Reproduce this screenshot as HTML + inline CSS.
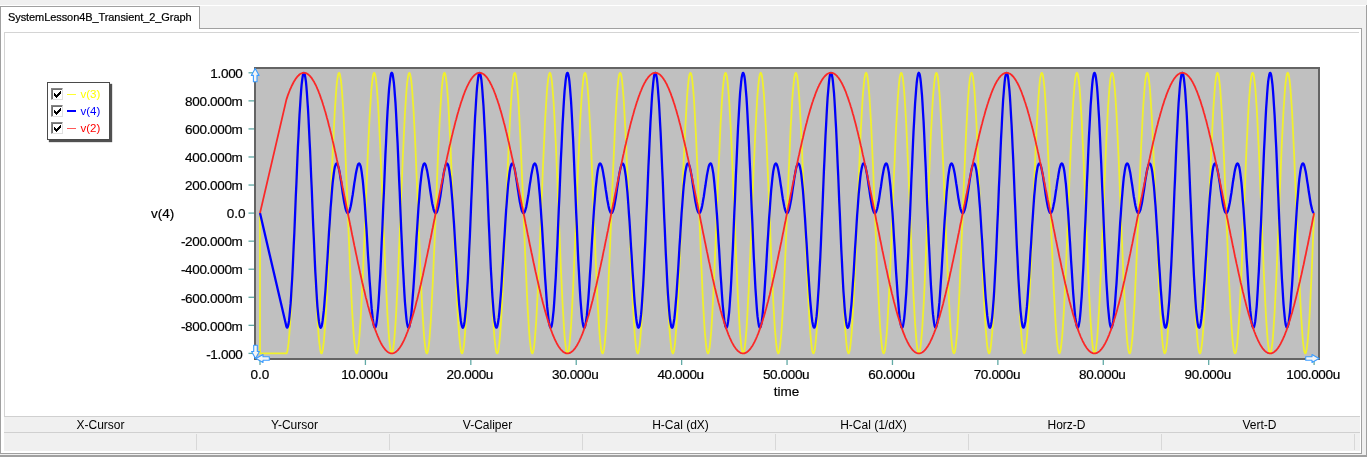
<!DOCTYPE html>
<html><head><meta charset="utf-8"><title>SystemLesson4B_Transient_2_Graph</title>
<style>
html,body{margin:0;padding:0;}
body{width:1367px;height:457px;overflow:hidden;background:#f0f0f0;position:relative;font-family:"Liberation Sans",sans-serif;color:#000;}
.abs{position:absolute;}
.tab{left:0;top:6px;width:198px;height:22px;background:#fff;border:1px solid #a0a0a0;border-bottom:none;box-sizing:content-box;}
.tabtxt{left:8px;top:11px;font-size:11px;line-height:13px;white-space:nowrap;letter-spacing:-0.08px;-webkit-text-stroke:0.2px #000;}
.page{left:0;top:28px;width:1360px;height:424px;background:#fff;border:1px solid #a0a0a0;}
.inner{left:4px;top:32px;width:1354px;height:384px;background:#fff;border-top:1px solid #d4d4d4;border-left:1px solid #d4d4d4;}
.status{left:4px;top:416px;width:1356px;height:35px;background:#f0f0f0;}
.sline{left:4px;width:1356px;height:1px;background:#d0d0d0;}
.scol{top:418px;width:193px;text-align:center;font-size:12px;line-height:14px;}
.ssep{top:434px;width:1px;height:16px;background:#d8d8d8;}
.yl{right:1124.5px;font-size:13.5px;line-height:15px;white-space:nowrap;text-align:right;letter-spacing:-0.33px;-webkit-text-stroke:0.2px #000;}
.xl{font-size:13.5px;line-height:15px;white-space:nowrap;width:100px;text-align:center;letter-spacing:-0.35px;-webkit-text-stroke:0.2px #000;}
.leg{left:47px;top:82px;width:61px;height:56px;border:1px solid #4a4a4a;background:#fff;box-shadow:2px 2px 1px #505050;}
.cb{left:51px;width:10px;height:10px;background:#fff;border-top:1px solid #858585;border-left:1px solid #858585;border-right:1px solid #e0e0e0;border-bottom:1px solid #e0e0e0;box-sizing:content-box;}
.cbi{left:52px;width:9px;height:9px;border-top:1px solid #707070;border-left:1px solid #707070;}
.lt{left:80.5px;font-size:11.5px;line-height:13px;white-space:nowrap;}
</style></head><body>

<div class="abs" style="left:0;top:5px;width:1367px;height:1px;background:#fff"></div>
<div class="abs" style="left:1366px;top:5px;width:1px;height:452px;background:#a0a0a0"></div>
<div class="abs" style="left:0;top:455px;width:1367px;height:2px;background:#a0a0a0"></div>
<div class="abs page"></div>
<div class="abs tab"></div>
<div class="abs tabtxt">SystemLesson4B_Transient_2_Graph</div>
<div class="abs inner"></div>
<div class="abs status"></div>
<div class="abs sline" style="top:416px"></div>
<div class="abs sline" style="top:432px"></div>
<div class="abs scol" style="left:4px">X-Cursor</div>
<div class="abs ssep" style="left:196px"></div>
<div class="abs scol" style="left:198px">Y-Cursor</div>
<div class="abs ssep" style="left:389px"></div>
<div class="abs scol" style="left:391px">V-Caliper</div>
<div class="abs ssep" style="left:582px"></div>
<div class="abs scol" style="left:584px">H-Cal (dX)</div>
<div class="abs ssep" style="left:775px"></div>
<div class="abs scol" style="left:777px">H-Cal (1/dX)</div>
<div class="abs ssep" style="left:968px"></div>
<div class="abs scol" style="left:970px">Horz-D</div>
<div class="abs ssep" style="left:1161px"></div>
<div class="abs scol" style="left:1163px">Vert-D</div>
<div class="abs ssep" style="left:1354px"></div>
<div class="abs yl" style="top:66.0px">1.000</div>
<div class="abs yl" style="top:94.1px">800.000m</div>
<div class="abs yl" style="top:122.1px">600.000m</div>
<div class="abs yl" style="top:150.2px">400.000m</div>
<div class="abs yl" style="top:178.2px">200.000m</div>
<div class="abs yl" style="top:206.3px;right:1121.5px;letter-spacing:0">0.0</div>
<div class="abs yl" style="top:234.4px">-200.000m</div>
<div class="abs yl" style="top:262.4px">-400.000m</div>
<div class="abs yl" style="top:290.5px">-600.000m</div>
<div class="abs yl" style="top:318.5px">-800.000m</div>
<div class="abs yl" style="top:346.6px">-1.000</div>
<div class="abs xl" style="left:209.0px;top:366.5px;letter-spacing:0;margin-left:1px">0.0</div>
<div class="abs xl" style="left:314.4px;top:366.5px">10.000u</div>
<div class="abs xl" style="left:419.8px;top:366.5px">20.000u</div>
<div class="abs xl" style="left:525.2px;top:366.5px">30.000u</div>
<div class="abs xl" style="left:630.6px;top:366.5px">40.000u</div>
<div class="abs xl" style="left:736.1px;top:366.5px">50.000u</div>
<div class="abs xl" style="left:841.5px;top:366.5px">60.000u</div>
<div class="abs xl" style="left:946.9px;top:366.5px">70.000u</div>
<div class="abs xl" style="left:1052.3px;top:366.5px">80.000u</div>
<div class="abs xl" style="left:1157.7px;top:366.5px">90.000u</div>
<div class="abs xl" style="left:1263.1px;top:366.5px">100.000u</div>
<div class="abs xl" style="left:736.5px;top:383.5px;letter-spacing:0">time</div>
<div class="abs" style="left:151px;top:206px;font-size:13.5px;line-height:15px;-webkit-text-stroke:0.2px #000">v(4)</div>
<div class="abs leg"></div>
<div class="abs cb" style="top:88px"></div><div class="abs cbi" style="top:89px"></div>
<svg class="abs" style="left:54px;top:91px" width="7" height="7" viewBox="0 0 7 7" shape-rendering="crispEdges" fill="#000"><rect x="0" y="2" width="1" height="3"/><rect x="1" y="3" width="1" height="3"/><rect x="2" y="4" width="1" height="3"/><rect x="3" y="3" width="1" height="3"/><rect x="4" y="2" width="1" height="3"/><rect x="5" y="1" width="1" height="3"/><rect x="6" y="0" width="1" height="3"/></svg>
<div class="abs" style="left:67px;top:93.75px;width:8.5px;height:1.5px;background:#ffff30"></div>
<div class="abs lt" style="top:87.5px;color:#ffff00">v(3)</div>
<div class="abs cb" style="top:105px"></div><div class="abs cbi" style="top:106px"></div>
<svg class="abs" style="left:54px;top:108px" width="7" height="7" viewBox="0 0 7 7" shape-rendering="crispEdges" fill="#000"><rect x="0" y="2" width="1" height="3"/><rect x="1" y="3" width="1" height="3"/><rect x="2" y="4" width="1" height="3"/><rect x="3" y="3" width="1" height="3"/><rect x="4" y="2" width="1" height="3"/><rect x="5" y="1" width="1" height="3"/><rect x="6" y="0" width="1" height="3"/></svg>
<div class="abs" style="left:67px;top:110px;width:8.5px;height:2px;background:#0000ff"></div>
<div class="abs lt" style="top:104.5px;color:#0000ff">v(4)</div>
<div class="abs cb" style="top:122px"></div><div class="abs cbi" style="top:123px"></div>
<svg class="abs" style="left:54px;top:125px" width="7" height="7" viewBox="0 0 7 7" shape-rendering="crispEdges" fill="#000"><rect x="0" y="2" width="1" height="3"/><rect x="1" y="3" width="1" height="3"/><rect x="2" y="4" width="1" height="3"/><rect x="3" y="3" width="1" height="3"/><rect x="4" y="2" width="1" height="3"/><rect x="5" y="1" width="1" height="3"/><rect x="6" y="0" width="1" height="3"/></svg>
<div class="abs" style="left:67px;top:127.75px;width:8.5px;height:1.5px;background:#ff5858"></div>
<div class="abs lt" style="top:121.5px;color:#ff0000">v(2)</div>
<svg class="abs" style="left:0;top:0" width="1367" height="457" viewBox="0 0 1367 457">
<rect x="255" y="68" width="1064" height="291" fill="#c0c0c0" stroke="#646464" stroke-width="2" shape-rendering="crispEdges"/>
<rect x="248.5" y="72.15" width="5.5" height="1.3" fill="#62aaa6"/>
<rect x="259.35" y="360" width="1.3" height="5" fill="#62aaa6"/>
<rect x="248.5" y="100.21" width="5.5" height="1.3" fill="#62aaa6"/>
<rect x="364.76" y="360" width="1.3" height="5" fill="#62aaa6"/>
<rect x="248.5" y="128.27" width="5.5" height="1.3" fill="#62aaa6"/>
<rect x="470.17" y="360" width="1.3" height="5" fill="#62aaa6"/>
<rect x="248.5" y="156.33" width="5.5" height="1.3" fill="#62aaa6"/>
<rect x="575.58" y="360" width="1.3" height="5" fill="#62aaa6"/>
<rect x="248.5" y="184.39" width="5.5" height="1.3" fill="#62aaa6"/>
<rect x="680.99" y="360" width="1.3" height="5" fill="#62aaa6"/>
<rect x="248.5" y="212.45" width="5.5" height="1.3" fill="#62aaa6"/>
<rect x="786.40" y="360" width="1.3" height="5" fill="#62aaa6"/>
<rect x="248.5" y="240.51" width="5.5" height="1.3" fill="#62aaa6"/>
<rect x="891.81" y="360" width="1.3" height="5" fill="#62aaa6"/>
<rect x="248.5" y="268.57" width="5.5" height="1.3" fill="#62aaa6"/>
<rect x="997.22" y="360" width="1.3" height="5" fill="#62aaa6"/>
<rect x="248.5" y="296.63" width="5.5" height="1.3" fill="#62aaa6"/>
<rect x="1102.63" y="360" width="1.3" height="5" fill="#62aaa6"/>
<rect x="248.5" y="324.69" width="5.5" height="1.3" fill="#62aaa6"/>
<rect x="1208.04" y="360" width="1.3" height="5" fill="#62aaa6"/>
<rect x="248.5" y="352.75" width="5.5" height="1.3" fill="#62aaa6"/>
<rect x="1313.45" y="360" width="1.3" height="5" fill="#62aaa6"/>
<g fill="none" stroke-linejoin="round" shape-rendering="crispEdges">
<polyline points="260.0,213.1 260.0,353.4 286.4,353.4 286.4,353.4 286.9,352.8 287.4,350.9 287.9,347.8 288.5,343.5 289.0,338.1 289.5,331.6 290.0,324.0 290.6,315.4 291.1,305.9 291.6,295.6 292.2,284.5 292.7,272.8 293.2,260.6 293.7,248.0 294.3,235.0 294.8,221.9 295.3,208.7 295.8,195.5 296.4,182.5 296.9,169.7 297.4,157.4 297.9,145.5 298.5,134.2 299.0,123.7 299.5,113.9 300.1,105.0 300.6,97.1 301.1,90.2 301.6,84.3 302.2,79.7 302.7,76.2 303.2,73.9 303.7,72.9 304.3,73.1 304.8,74.5 305.3,77.2 305.9,81.1 306.4,86.2 306.9,92.3 307.4,99.6 308.0,107.9 308.5,117.1 309.0,127.1 309.5,137.9 310.1,149.4 310.6,161.5 311.1,174.0 311.7,186.8 312.2,199.9 312.7,213.1 313.2,226.3 313.8,239.4 314.3,252.2 314.8,264.7 315.3,276.8 315.9,288.3 316.4,299.1 316.9,309.1 317.4,318.3 318.0,326.6 318.5,333.9 319.0,340.0 319.6,345.1 320.1,349.0 320.6,351.7 321.1,353.1 321.7,353.3 322.2,352.3 322.7,350.0 323.2,346.5 323.8,341.9 324.3,336.0 324.8,329.1 325.4,321.2 325.9,312.3 326.4,302.5 326.9,292.0 327.5,280.7 328.0,268.8 328.5,256.5 329.0,243.7 329.6,230.7 330.1,217.5 330.6,204.3 331.2,191.2 331.7,178.2 332.2,165.6 332.7,153.4 333.3,141.7 333.8,130.6 334.3,120.3 334.8,110.8 335.4,102.2 335.9,94.6 336.4,88.1 336.9,82.7 337.5,78.4 338.0,75.3 338.5,73.4 339.1,72.8 339.6,73.4 340.1,75.3 340.6,78.4 341.2,82.7 341.7,88.1 342.2,94.6 342.7,102.2 343.3,110.8 343.8,120.3 344.3,130.6 344.9,141.7 345.4,153.4 345.9,165.6 346.4,178.2 347.0,191.2 347.5,204.3 348.0,217.5 348.5,230.7 349.1,243.7 349.6,256.5 350.1,268.8 350.7,280.7 351.2,292.0 351.7,302.5 352.2,312.3 352.8,321.2 353.3,329.1 353.8,336.0 354.3,341.9 354.9,346.5 355.4,350.0 355.9,352.3 356.5,353.3 357.0,353.1 357.5,351.7 358.0,349.0 358.6,345.1 359.1,340.0 359.6,333.9 360.1,326.6 360.7,318.3 361.2,309.1 361.7,299.1 362.2,288.3 362.8,276.8 363.3,264.7 363.8,252.2 364.4,239.4 364.9,226.3 365.4,213.1 365.9,199.9 366.5,186.8 367.0,174.0 367.5,161.5 368.0,149.4 368.6,137.9 369.1,127.1 369.6,117.1 370.2,107.9 370.7,99.6 371.2,92.3 371.7,86.2 372.3,81.1 372.8,77.2 373.3,74.5 373.8,73.1 374.4,72.9 374.9,73.9 375.4,76.2 376.0,79.7 376.5,84.3 377.0,90.2 377.5,97.1 378.1,105.0 378.6,113.9 379.1,123.7 379.6,134.2 380.2,145.5 380.7,157.4 381.2,169.7 381.7,182.5 382.3,195.5 382.8,208.7 383.3,221.9 383.9,235.0 384.4,248.0 384.9,260.6 385.4,272.8 386.0,284.5 386.5,295.6 387.0,305.9 387.5,315.4 388.1,324.0 388.6,331.6 389.1,338.1 389.7,343.5 390.2,347.8 390.7,350.9 391.2,352.8 391.8,353.4 392.3,352.8 392.8,350.9 393.3,347.8 393.9,343.5 394.4,338.1 394.9,331.6 395.5,324.0 396.0,315.4 396.5,305.9 397.0,295.6 397.6,284.5 398.1,272.8 398.6,260.6 399.1,248.0 399.7,235.0 400.2,221.9 400.7,208.7 401.2,195.5 401.8,182.5 402.3,169.7 402.8,157.4 403.4,145.5 403.9,134.2 404.4,123.7 404.9,113.9 405.5,105.0 406.0,97.1 406.5,90.2 407.0,84.3 407.6,79.7 408.1,76.2 408.6,73.9 409.2,72.9 409.7,73.1 410.2,74.5 410.7,77.2 411.3,81.1 411.8,86.2 412.3,92.3 412.8,99.6 413.4,107.9 413.9,117.1 414.4,127.1 415.0,137.9 415.5,149.4 416.0,161.5 416.5,174.0 417.1,186.8 417.6,199.9 418.1,213.1 418.6,226.3 419.2,239.4 419.7,252.2 420.2,264.7 420.8,276.8 421.3,288.3 421.8,299.1 422.3,309.1 422.9,318.3 423.4,326.6 423.9,333.9 424.4,340.0 425.0,345.1 425.5,349.0 426.0,351.7 426.5,353.1 427.1,353.3 427.6,352.3 428.1,350.0 428.7,346.5 429.2,341.9 429.7,336.0 430.2,329.1 430.8,321.2 431.3,312.3 431.8,302.5 432.3,292.0 432.9,280.7 433.4,268.8 433.9,256.5 434.5,243.7 435.0,230.7 435.5,217.5 436.0,204.3 436.6,191.2 437.1,178.2 437.6,165.6 438.1,153.4 438.7,141.7 439.2,130.6 439.7,120.3 440.3,110.8 440.8,102.2 441.3,94.6 441.8,88.1 442.4,82.7 442.9,78.4 443.4,75.3 443.9,73.4 444.5,72.8 445.0,73.4 445.5,75.3 446.0,78.4 446.6,82.7 447.1,88.1 447.6,94.6 448.2,102.2 448.7,110.8 449.2,120.3 449.7,130.6 450.3,141.7 450.8,153.4 451.3,165.6 451.8,178.2 452.4,191.2 452.9,204.3 453.4,217.5 454.0,230.7 454.5,243.7 455.0,256.5 455.5,268.8 456.1,280.7 456.6,292.0 457.1,302.5 457.6,312.3 458.2,321.2 458.7,329.1 459.2,336.0 459.8,341.9 460.3,346.5 460.8,350.0 461.3,352.3 461.9,353.3 462.4,353.1 462.9,351.7 463.4,349.0 464.0,345.1 464.5,340.0 465.0,333.9 465.5,326.6 466.1,318.3 466.6,309.1 467.1,299.1 467.7,288.3 468.2,276.8 468.7,264.7 469.2,252.2 469.8,239.4 470.3,226.3 470.8,213.1 471.3,199.9 471.9,186.8 472.4,174.0 472.9,161.5 473.5,149.4 474.0,137.9 474.5,127.1 475.0,117.1 475.6,107.9 476.1,99.6 476.6,92.3 477.1,86.2 477.7,81.1 478.2,77.2 478.7,74.5 479.3,73.1 479.8,72.9 480.3,73.9 480.8,76.2 481.4,79.7 481.9,84.3 482.4,90.2 482.9,97.1 483.5,105.0 484.0,113.9 484.5,123.7 485.1,134.2 485.6,145.5 486.1,157.4 486.6,169.7 487.2,182.5 487.7,195.5 488.2,208.7 488.7,221.9 489.3,235.0 489.8,248.0 490.3,260.6 490.8,272.8 491.4,284.5 491.9,295.6 492.4,305.9 493.0,315.4 493.5,324.0 494.0,331.6 494.5,338.1 495.1,343.5 495.6,347.8 496.1,350.9 496.6,352.8 497.2,353.4 497.7,352.8 498.2,350.9 498.8,347.8 499.3,343.5 499.8,338.1 500.3,331.6 500.9,324.0 501.4,315.4 501.9,305.9 502.4,295.6 503.0,284.5 503.5,272.8 504.0,260.6 504.6,248.0 505.1,235.0 505.6,221.9 506.1,208.7 506.7,195.5 507.2,182.5 507.7,169.7 508.2,157.4 508.8,145.5 509.3,134.2 509.8,123.7 510.3,113.9 510.9,105.0 511.4,97.1 511.9,90.2 512.5,84.3 513.0,79.7 513.5,76.2 514.0,73.9 514.6,72.9 515.1,73.1 515.6,74.5 516.1,77.2 516.7,81.1 517.2,86.2 517.7,92.3 518.3,99.6 518.8,107.9 519.3,117.1 519.8,127.1 520.4,137.9 520.9,149.4 521.4,161.5 521.9,174.0 522.5,186.8 523.0,199.9 523.5,213.1 524.1,226.3 524.6,239.4 525.1,252.2 525.6,264.7 526.2,276.8 526.7,288.3 527.2,299.1 527.7,309.1 528.3,318.3 528.8,326.6 529.3,333.9 529.8,340.0 530.4,345.1 530.9,349.0 531.4,351.7 532.0,353.1 532.5,353.3 533.0,352.3 533.5,350.0 534.1,346.5 534.6,341.9 535.1,336.0 535.6,329.1 536.2,321.2 536.7,312.3 537.2,302.5 537.8,292.0 538.3,280.7 538.8,268.8 539.3,256.5 539.9,243.7 540.4,230.7 540.9,217.5 541.4,204.3 542.0,191.2 542.5,178.2 543.0,165.6 543.6,153.4 544.1,141.7 544.6,130.6 545.1,120.3 545.7,110.8 546.2,102.2 546.7,94.6 547.2,88.1 547.8,82.7 548.3,78.4 548.8,75.3 549.4,73.4 549.9,72.8 550.4,73.4 550.9,75.3 551.5,78.4 552.0,82.7 552.5,88.1 553.0,94.6 553.6,102.2 554.1,110.8 554.6,120.3 555.1,130.6 555.7,141.7 556.2,153.4 556.7,165.6 557.3,178.2 557.8,191.2 558.3,204.3 558.8,217.5 559.4,230.7 559.9,243.7 560.4,256.5 560.9,268.8 561.5,280.7 562.0,292.0 562.5,302.5 563.1,312.3 563.6,321.2 564.1,329.1 564.6,336.0 565.2,341.9 565.7,346.5 566.2,350.0 566.7,352.3 567.3,353.3 567.8,353.1 568.3,351.7 568.9,349.0 569.4,345.1 569.9,340.0 570.4,333.9 571.0,326.6 571.5,318.3 572.0,309.1 572.5,299.1 573.1,288.3 573.6,276.8 574.1,264.7 574.6,252.2 575.2,239.4 575.7,226.3 576.2,213.1 576.8,199.9 577.3,186.8 577.8,174.0 578.3,161.5 578.9,149.4 579.4,137.9 579.9,127.1 580.4,117.1 581.0,107.9 581.5,99.6 582.0,92.3 582.6,86.2 583.1,81.1 583.6,77.2 584.1,74.5 584.7,73.1 585.2,72.9 585.7,73.9 586.2,76.2 586.8,79.7 587.3,84.3 587.8,90.2 588.4,97.1 588.9,105.0 589.4,113.9 589.9,123.7 590.5,134.2 591.0,145.5 591.5,157.4 592.0,169.7 592.6,182.5 593.1,195.5 593.6,208.7 594.1,221.9 594.7,235.0 595.2,248.0 595.7,260.6 596.3,272.8 596.8,284.5 597.3,295.6 597.8,305.9 598.4,315.4 598.9,324.0 599.4,331.6 599.9,338.1 600.5,343.5 601.0,347.8 601.5,350.9 602.1,352.8 602.6,353.4 603.1,352.8 603.6,350.9 604.2,347.8 604.7,343.5 605.2,338.1 605.7,331.6 606.3,324.0 606.8,315.4 607.3,305.9 607.9,295.6 608.4,284.5 608.9,272.8 609.4,260.6 610.0,248.0 610.5,235.0 611.0,221.9 611.5,208.7 612.1,195.5 612.6,182.5 613.1,169.7 613.7,157.4 614.2,145.5 614.7,134.2 615.2,123.7 615.8,113.9 616.3,105.0 616.8,97.1 617.3,90.2 617.9,84.3 618.4,79.7 618.9,76.2 619.4,73.9 620.0,72.9 620.5,73.1 621.0,74.5 621.6,77.2 622.1,81.1 622.6,86.2 623.1,92.3 623.7,99.6 624.2,107.9 624.7,117.1 625.2,127.1 625.8,137.9 626.3,149.4 626.8,161.5 627.4,174.0 627.9,186.8 628.4,199.9 628.9,213.1 629.5,226.3 630.0,239.4 630.5,252.2 631.0,264.7 631.6,276.8 632.1,288.3 632.6,299.1 633.2,309.1 633.7,318.3 634.2,326.6 634.7,333.9 635.3,340.0 635.8,345.1 636.3,349.0 636.8,351.7 637.4,353.1 637.9,353.3 638.4,352.3 638.9,350.0 639.5,346.5 640.0,341.9 640.5,336.0 641.1,329.1 641.6,321.2 642.1,312.3 642.6,302.5 643.2,292.0 643.7,280.7 644.2,268.8 644.7,256.5 645.3,243.7 645.8,230.7 646.3,217.5 646.9,204.3 647.4,191.2 647.9,178.2 648.4,165.6 649.0,153.4 649.5,141.7 650.0,130.6 650.5,120.3 651.1,110.8 651.6,102.2 652.1,94.6 652.7,88.1 653.2,82.7 653.7,78.4 654.2,75.3 654.8,73.4 655.3,72.8 655.8,73.4 656.3,75.3 656.9,78.4 657.4,82.7 657.9,88.1 658.4,94.6 659.0,102.2 659.5,110.8 660.0,120.3 660.6,130.6 661.1,141.7 661.6,153.4 662.1,165.6 662.7,178.2 663.2,191.2 663.7,204.3 664.2,217.5 664.8,230.7 665.3,243.7 665.8,256.5 666.4,268.8 666.9,280.7 667.4,292.0 667.9,302.5 668.5,312.3 669.0,321.2 669.5,329.1 670.0,336.0 670.6,341.9 671.1,346.5 671.6,350.0 672.2,352.3 672.7,353.3 673.2,353.1 673.7,351.7 674.3,349.0 674.8,345.1 675.3,340.0 675.8,333.9 676.4,326.6 676.9,318.3 677.4,309.1 678.0,299.1 678.5,288.3 679.0,276.8 679.5,264.7 680.1,252.2 680.6,239.4 681.1,226.3 681.6,213.1 682.2,199.9 682.7,186.8 683.2,174.0 683.7,161.5 684.3,149.4 684.8,137.9 685.3,127.1 685.9,117.1 686.4,107.9 686.9,99.6 687.4,92.3 688.0,86.2 688.5,81.1 689.0,77.2 689.5,74.5 690.1,73.1 690.6,72.9 691.1,73.9 691.7,76.2 692.2,79.7 692.7,84.3 693.2,90.2 693.8,97.1 694.3,105.0 694.8,113.9 695.3,123.7 695.9,134.2 696.4,145.5 696.9,157.4 697.5,169.7 698.0,182.5 698.5,195.5 699.0,208.7 699.6,221.9 700.1,235.0 700.6,248.0 701.1,260.6 701.7,272.8 702.2,284.5 702.7,295.6 703.2,305.9 703.8,315.4 704.3,324.0 704.8,331.6 705.4,338.1 705.9,343.5 706.4,347.8 706.9,350.9 707.5,352.8 708.0,353.4 708.5,352.8 709.0,350.9 709.6,347.8 710.1,343.5 710.6,338.1 711.2,331.6 711.7,324.0 712.2,315.4 712.7,305.9 713.3,295.6 713.8,284.5 714.3,272.8 714.8,260.6 715.4,248.0 715.9,235.0 716.4,221.9 717.0,208.7 717.5,195.5 718.0,182.5 718.5,169.7 719.1,157.4 719.6,145.5 720.1,134.2 720.6,123.7 721.2,113.9 721.7,105.0 722.2,97.1 722.7,90.2 723.3,84.3 723.8,79.7 724.3,76.2 724.9,73.9 725.4,72.9 725.9,73.1 726.4,74.5 727.0,77.2 727.5,81.1 728.0,86.2 728.5,92.3 729.1,99.6 729.6,107.9 730.1,117.1 730.7,127.1 731.2,137.9 731.7,149.4 732.2,161.5 732.8,174.0 733.3,186.8 733.8,199.9 734.3,213.1 734.9,226.3 735.4,239.4 735.9,252.2 736.5,264.7 737.0,276.8 737.5,288.3 738.0,299.1 738.6,309.1 739.1,318.3 739.6,326.6 740.1,333.9 740.7,340.0 741.2,345.1 741.7,349.0 742.3,351.7 742.8,353.1 743.3,353.3 743.8,352.3 744.4,350.0 744.9,346.5 745.4,341.9 745.9,336.0 746.5,329.1 747.0,321.2 747.5,312.3 748.0,302.5 748.6,292.0 749.1,280.7 749.6,268.8 750.2,256.5 750.7,243.7 751.2,230.7 751.7,217.5 752.3,204.3 752.8,191.2 753.3,178.2 753.8,165.6 754.4,153.4 754.9,141.7 755.4,130.6 756.0,120.3 756.5,110.8 757.0,102.2 757.5,94.6 758.1,88.1 758.6,82.7 759.1,78.4 759.6,75.3 760.2,73.4 760.7,72.8 761.2,73.4 761.8,75.3 762.3,78.4 762.8,82.7 763.3,88.1 763.9,94.6 764.4,102.2 764.9,110.8 765.4,120.3 766.0,130.6 766.5,141.7 767.0,153.4 767.5,165.6 768.1,178.2 768.6,191.2 769.1,204.3 769.7,217.5 770.2,230.7 770.7,243.7 771.2,256.5 771.8,268.8 772.3,280.7 772.8,292.0 773.3,302.5 773.9,312.3 774.4,321.2 774.9,329.1 775.5,336.0 776.0,341.9 776.5,346.5 777.0,350.0 777.6,352.3 778.1,353.3 778.6,353.1 779.1,351.7 779.7,349.0 780.2,345.1 780.7,340.0 781.3,333.9 781.8,326.6 782.3,318.3 782.8,309.1 783.4,299.1 783.9,288.3 784.4,276.8 784.9,264.7 785.5,252.2 786.0,239.4 786.5,226.3 787.0,213.1 787.6,199.9 788.1,186.8 788.6,174.0 789.2,161.5 789.7,149.4 790.2,137.9 790.7,127.1 791.3,117.1 791.8,107.9 792.3,99.6 792.8,92.3 793.4,86.2 793.9,81.1 794.4,77.2 795.0,74.5 795.5,73.1 796.0,72.9 796.5,73.9 797.1,76.2 797.6,79.7 798.1,84.3 798.6,90.2 799.2,97.1 799.7,105.0 800.2,113.9 800.8,123.7 801.3,134.2 801.8,145.5 802.3,157.4 802.9,169.7 803.4,182.5 803.9,195.5 804.4,208.7 805.0,221.9 805.5,235.0 806.0,248.0 806.6,260.6 807.1,272.8 807.6,284.5 808.1,295.6 808.7,305.9 809.2,315.4 809.7,324.0 810.2,331.6 810.8,338.1 811.3,343.5 811.8,347.8 812.3,350.9 812.9,352.8 813.4,353.4 813.9,352.8 814.5,350.9 815.0,347.8 815.5,343.5 816.0,338.1 816.6,331.6 817.1,324.0 817.6,315.4 818.1,305.9 818.7,295.6 819.2,284.5 819.7,272.8 820.3,260.6 820.8,248.0 821.3,235.0 821.8,221.9 822.4,208.7 822.9,195.5 823.4,182.5 823.9,169.7 824.5,157.4 825.0,145.5 825.5,134.2 826.1,123.7 826.6,113.9 827.1,105.0 827.6,97.1 828.2,90.2 828.7,84.3 829.2,79.7 829.7,76.2 830.3,73.9 830.8,72.9 831.3,73.1 831.8,74.5 832.4,77.2 832.9,81.1 833.4,86.2 834.0,92.3 834.5,99.6 835.0,107.9 835.5,117.1 836.1,127.1 836.6,137.9 837.1,149.4 837.6,161.5 838.2,174.0 838.7,186.8 839.2,199.9 839.8,213.1 840.3,226.3 840.8,239.4 841.3,252.2 841.9,264.7 842.4,276.8 842.9,288.3 843.4,299.1 844.0,309.1 844.5,318.3 845.0,326.6 845.6,333.9 846.1,340.0 846.6,345.1 847.1,349.0 847.7,351.7 848.2,353.1 848.7,353.3 849.2,352.3 849.8,350.0 850.3,346.5 850.8,341.9 851.4,336.0 851.9,329.1 852.4,321.2 852.9,312.3 853.5,302.5 854.0,292.0 854.5,280.7 855.0,268.8 855.6,256.5 856.1,243.7 856.6,230.7 857.1,217.5 857.7,204.3 858.2,191.2 858.7,178.2 859.3,165.6 859.8,153.4 860.3,141.7 860.8,130.6 861.4,120.3 861.9,110.8 862.4,102.2 862.9,94.6 863.5,88.1 864.0,82.7 864.5,78.4 865.1,75.3 865.6,73.4 866.1,72.8 866.6,73.4 867.2,75.3 867.7,78.4 868.2,82.7 868.7,88.1 869.3,94.6 869.8,102.2 870.3,110.8 870.9,120.3 871.4,130.6 871.9,141.7 872.4,153.4 873.0,165.6 873.5,178.2 874.0,191.2 874.5,204.3 875.1,217.5 875.6,230.7 876.1,243.7 876.6,256.5 877.2,268.8 877.7,280.7 878.2,292.0 878.8,302.5 879.3,312.3 879.8,321.2 880.3,329.1 880.9,336.0 881.4,341.9 881.9,346.5 882.4,350.0 883.0,352.3 883.5,353.3 884.0,353.1 884.6,351.7 885.1,349.0 885.6,345.1 886.1,340.0 886.7,333.9 887.2,326.6 887.7,318.3 888.2,309.1 888.8,299.1 889.3,288.3 889.8,276.8 890.4,264.7 890.9,252.2 891.4,239.4 891.9,226.3 892.5,213.1 893.0,199.9 893.5,186.8 894.0,174.0 894.6,161.5 895.1,149.4 895.6,137.9 896.1,127.1 896.7,117.1 897.2,107.9 897.7,99.6 898.3,92.3 898.8,86.2 899.3,81.1 899.8,77.2 900.4,74.5 900.9,73.1 901.4,72.9 901.9,73.9 902.5,76.2 903.0,79.7 903.5,84.3 904.1,90.2 904.6,97.1 905.1,105.0 905.6,113.9 906.2,123.7 906.7,134.2 907.2,145.5 907.7,157.4 908.3,169.7 908.8,182.5 909.3,195.5 909.9,208.7 910.4,221.9 910.9,235.0 911.4,248.0 912.0,260.6 912.5,272.8 913.0,284.5 913.5,295.6 914.1,305.9 914.6,315.4 915.1,324.0 915.7,331.6 916.2,338.1 916.7,343.5 917.2,347.8 917.8,350.9 918.3,352.8 918.8,353.4 919.3,352.8 919.9,350.9 920.4,347.8 920.9,343.5 921.4,338.1 922.0,331.6 922.5,324.0 923.0,315.4 923.6,305.9 924.1,295.6 924.6,284.5 925.1,272.8 925.7,260.6 926.2,248.0 926.7,235.0 927.2,221.9 927.8,208.7 928.3,195.5 928.8,182.5 929.4,169.7 929.9,157.4 930.4,145.5 930.9,134.2 931.5,123.7 932.0,113.9 932.5,105.0 933.0,97.1 933.6,90.2 934.1,84.3 934.6,79.7 935.2,76.2 935.7,73.9 936.2,72.9 936.7,73.1 937.3,74.5 937.8,77.2 938.3,81.1 938.8,86.2 939.4,92.3 939.9,99.6 940.4,107.9 940.9,117.1 941.5,127.1 942.0,137.9 942.5,149.4 943.1,161.5 943.6,174.0 944.1,186.8 944.6,199.9 945.2,213.1 945.7,226.3 946.2,239.4 946.7,252.2 947.3,264.7 947.8,276.8 948.3,288.3 948.9,299.1 949.4,309.1 949.9,318.3 950.4,326.6 951.0,333.9 951.5,340.0 952.0,345.1 952.5,349.0 953.1,351.7 953.6,353.1 954.1,353.3 954.7,352.3 955.2,350.0 955.7,346.5 956.2,341.9 956.8,336.0 957.3,329.1 957.8,321.2 958.3,312.3 958.9,302.5 959.4,292.0 959.9,280.7 960.4,268.8 961.0,256.5 961.5,243.7 962.0,230.7 962.6,217.5 963.1,204.3 963.6,191.2 964.1,178.2 964.7,165.6 965.2,153.4 965.7,141.7 966.2,130.6 966.8,120.3 967.3,110.8 967.8,102.2 968.4,94.6 968.9,88.1 969.4,82.7 969.9,78.4 970.5,75.3 971.0,73.4 971.5,72.8 972.0,73.4 972.6,75.3 973.1,78.4 973.6,82.7 974.2,88.1 974.7,94.6 975.2,102.2 975.7,110.8 976.3,120.3 976.8,130.6 977.3,141.7 977.8,153.4 978.4,165.6 978.9,178.2 979.4,191.2 980.0,204.3 980.5,217.5 981.0,230.7 981.5,243.7 982.1,256.5 982.6,268.8 983.1,280.7 983.6,292.0 984.2,302.5 984.7,312.3 985.2,321.2 985.7,329.1 986.3,336.0 986.8,341.9 987.3,346.5 987.9,350.0 988.4,352.3 988.9,353.3 989.4,353.1 990.0,351.7 990.5,349.0 991.0,345.1 991.5,340.0 992.1,333.9 992.6,326.6 993.1,318.3 993.7,309.1 994.2,299.1 994.7,288.3 995.2,276.8 995.8,264.7 996.3,252.2 996.8,239.4 997.3,226.3 997.9,213.1 998.4,199.9 998.9,186.8 999.5,174.0 1000.0,161.5 1000.5,149.4 1001.0,137.9 1001.6,127.1 1002.1,117.1 1002.6,107.9 1003.1,99.6 1003.7,92.3 1004.2,86.2 1004.7,81.1 1005.2,77.2 1005.8,74.5 1006.3,73.1 1006.8,72.9 1007.4,73.9 1007.9,76.2 1008.4,79.7 1008.9,84.3 1009.5,90.2 1010.0,97.1 1010.5,105.0 1011.0,113.9 1011.6,123.7 1012.1,134.2 1012.6,145.5 1013.2,157.4 1013.7,169.7 1014.2,182.5 1014.7,195.5 1015.3,208.7 1015.8,221.9 1016.3,235.0 1016.8,248.0 1017.4,260.6 1017.9,272.8 1018.4,284.5 1019.0,295.6 1019.5,305.9 1020.0,315.4 1020.5,324.0 1021.1,331.6 1021.6,338.1 1022.1,343.5 1022.6,347.8 1023.2,350.9 1023.7,352.8 1024.2,353.4 1024.7,352.8 1025.3,350.9 1025.8,347.8 1026.3,343.5 1026.9,338.1 1027.4,331.6 1027.9,324.0 1028.4,315.4 1029.0,305.9 1029.5,295.6 1030.0,284.5 1030.5,272.8 1031.1,260.6 1031.6,248.0 1032.1,235.0 1032.7,221.9 1033.2,208.7 1033.7,195.5 1034.2,182.5 1034.8,169.7 1035.3,157.4 1035.8,145.5 1036.3,134.2 1036.9,123.7 1037.4,113.9 1037.9,105.0 1038.5,97.1 1039.0,90.2 1039.5,84.3 1040.0,79.7 1040.6,76.2 1041.1,73.9 1041.6,72.9 1042.1,73.1 1042.7,74.5 1043.2,77.2 1043.7,81.1 1044.3,86.2 1044.8,92.3 1045.3,99.6 1045.8,107.9 1046.4,117.1 1046.9,127.1 1047.4,137.9 1047.9,149.4 1048.5,161.5 1049.0,174.0 1049.5,186.8 1050.0,199.9 1050.6,213.1 1051.1,226.3 1051.6,239.4 1052.2,252.2 1052.7,264.7 1053.2,276.8 1053.7,288.3 1054.3,299.1 1054.8,309.1 1055.3,318.3 1055.8,326.6 1056.4,333.9 1056.9,340.0 1057.4,345.1 1058.0,349.0 1058.5,351.7 1059.0,353.1 1059.5,353.3 1060.1,352.3 1060.6,350.0 1061.1,346.5 1061.6,341.9 1062.2,336.0 1062.7,329.1 1063.2,321.2 1063.8,312.3 1064.3,302.5 1064.8,292.0 1065.3,280.7 1065.9,268.8 1066.4,256.5 1066.9,243.7 1067.4,230.7 1068.0,217.5 1068.5,204.3 1069.0,191.2 1069.5,178.2 1070.1,165.6 1070.6,153.4 1071.1,141.7 1071.7,130.6 1072.2,120.3 1072.7,110.8 1073.2,102.2 1073.8,94.6 1074.3,88.1 1074.8,82.7 1075.3,78.4 1075.9,75.3 1076.4,73.4 1076.9,72.8 1077.5,73.4 1078.0,75.3 1078.5,78.4 1079.0,82.7 1079.6,88.1 1080.1,94.6 1080.6,102.2 1081.1,110.8 1081.7,120.3 1082.2,130.6 1082.7,141.7 1083.3,153.4 1083.8,165.6 1084.3,178.2 1084.8,191.2 1085.4,204.3 1085.9,217.5 1086.4,230.7 1086.9,243.7 1087.5,256.5 1088.0,268.8 1088.5,280.7 1089.0,292.0 1089.6,302.5 1090.1,312.3 1090.6,321.2 1091.2,329.1 1091.7,336.0 1092.2,341.9 1092.7,346.5 1093.3,350.0 1093.8,352.3 1094.3,353.3 1094.8,353.1 1095.4,351.7 1095.9,349.0 1096.4,345.1 1097.0,340.0 1097.5,333.9 1098.0,326.6 1098.5,318.3 1099.1,309.1 1099.6,299.1 1100.1,288.3 1100.6,276.8 1101.2,264.7 1101.7,252.2 1102.2,239.4 1102.8,226.3 1103.3,213.1 1103.8,199.9 1104.3,186.8 1104.9,174.0 1105.4,161.5 1105.9,149.4 1106.4,137.9 1107.0,127.1 1107.5,117.1 1108.0,107.9 1108.6,99.6 1109.1,92.3 1109.6,86.2 1110.1,81.1 1110.7,77.2 1111.2,74.5 1111.7,73.1 1112.2,72.9 1112.8,73.9 1113.3,76.2 1113.8,79.7 1114.3,84.3 1114.9,90.2 1115.4,97.1 1115.9,105.0 1116.5,113.9 1117.0,123.7 1117.5,134.2 1118.0,145.5 1118.6,157.4 1119.1,169.7 1119.6,182.5 1120.1,195.5 1120.7,208.7 1121.2,221.9 1121.7,235.0 1122.3,248.0 1122.8,260.6 1123.3,272.8 1123.8,284.5 1124.4,295.6 1124.9,305.9 1125.4,315.4 1125.9,324.0 1126.5,331.6 1127.0,338.1 1127.5,343.5 1128.1,347.8 1128.6,350.9 1129.1,352.8 1129.6,353.4 1130.2,352.8 1130.7,350.9 1131.2,347.8 1131.7,343.5 1132.3,338.1 1132.8,331.6 1133.3,324.0 1133.8,315.4 1134.4,305.9 1134.9,295.6 1135.4,284.5 1136.0,272.8 1136.5,260.6 1137.0,248.0 1137.5,235.0 1138.1,221.9 1138.6,208.7 1139.1,195.5 1139.6,182.5 1140.2,169.7 1140.7,157.4 1141.2,145.5 1141.8,134.2 1142.3,123.7 1142.8,113.9 1143.3,105.0 1143.9,97.1 1144.4,90.2 1144.9,84.3 1145.4,79.7 1146.0,76.2 1146.5,73.9 1147.0,72.9 1147.6,73.1 1148.1,74.5 1148.6,77.2 1149.1,81.1 1149.7,86.2 1150.2,92.3 1150.7,99.6 1151.2,107.9 1151.8,117.1 1152.3,127.1 1152.8,137.9 1153.3,149.4 1153.9,161.5 1154.4,174.0 1154.9,186.8 1155.5,199.9 1156.0,213.1 1156.5,226.3 1157.0,239.4 1157.6,252.2 1158.1,264.7 1158.6,276.8 1159.1,288.3 1159.7,299.1 1160.2,309.1 1160.7,318.3 1161.3,326.6 1161.8,333.9 1162.3,340.0 1162.8,345.1 1163.4,349.0 1163.9,351.7 1164.4,353.1 1164.9,353.3 1165.5,352.3 1166.0,350.0 1166.5,346.5 1167.1,341.9 1167.6,336.0 1168.1,329.1 1168.6,321.2 1169.2,312.3 1169.7,302.5 1170.2,292.0 1170.7,280.7 1171.3,268.8 1171.8,256.5 1172.3,243.7 1172.9,230.7 1173.4,217.5 1173.9,204.3 1174.4,191.2 1175.0,178.2 1175.5,165.6 1176.0,153.4 1176.5,141.7 1177.1,130.6 1177.6,120.3 1178.1,110.8 1178.6,102.2 1179.2,94.6 1179.7,88.1 1180.2,82.7 1180.8,78.4 1181.3,75.3 1181.8,73.4 1182.3,72.8 1182.9,73.4 1183.4,75.3 1183.9,78.4 1184.4,82.7 1185.0,88.1 1185.5,94.6 1186.0,102.2 1186.6,110.8 1187.1,120.3 1187.6,130.6 1188.1,141.7 1188.7,153.4 1189.2,165.6 1189.7,178.2 1190.2,191.2 1190.8,204.3 1191.3,217.5 1191.8,230.7 1192.4,243.7 1192.9,256.5 1193.4,268.8 1193.9,280.7 1194.5,292.0 1195.0,302.5 1195.5,312.3 1196.0,321.2 1196.6,329.1 1197.1,336.0 1197.6,341.9 1198.1,346.5 1198.7,350.0 1199.2,352.3 1199.7,353.3 1200.3,353.1 1200.8,351.7 1201.3,349.0 1201.8,345.1 1202.4,340.0 1202.9,333.9 1203.4,326.6 1203.9,318.3 1204.5,309.1 1205.0,299.1 1205.5,288.3 1206.1,276.8 1206.6,264.7 1207.1,252.2 1207.6,239.4 1208.2,226.3 1208.7,213.1 1209.2,199.9 1209.7,186.8 1210.3,174.0 1210.8,161.5 1211.3,149.4 1211.9,137.9 1212.4,127.1 1212.9,117.1 1213.4,107.9 1214.0,99.6 1214.5,92.3 1215.0,86.2 1215.5,81.1 1216.1,77.2 1216.6,74.5 1217.1,73.1 1217.6,72.9 1218.2,73.9 1218.7,76.2 1219.2,79.7 1219.8,84.3 1220.3,90.2 1220.8,97.1 1221.3,105.0 1221.9,113.9 1222.4,123.7 1222.9,134.2 1223.4,145.5 1224.0,157.4 1224.5,169.7 1225.0,182.5 1225.6,195.5 1226.1,208.7 1226.6,221.9 1227.1,235.0 1227.7,248.0 1228.2,260.6 1228.7,272.8 1229.2,284.5 1229.8,295.6 1230.3,305.9 1230.8,315.4 1231.4,324.0 1231.9,331.6 1232.4,338.1 1232.9,343.5 1233.5,347.8 1234.0,350.9 1234.5,352.8 1235.0,353.4 1235.6,352.8 1236.1,350.9 1236.6,347.8 1237.2,343.5 1237.7,338.1 1238.2,331.6 1238.7,324.0 1239.3,315.4 1239.8,305.9 1240.3,295.6 1240.8,284.5 1241.4,272.8 1241.9,260.6 1242.4,248.0 1242.9,235.0 1243.5,221.9 1244.0,208.7 1244.5,195.5 1245.1,182.5 1245.6,169.7 1246.1,157.4 1246.6,145.5 1247.2,134.2 1247.7,123.7 1248.2,113.9 1248.7,105.0 1249.3,97.1 1249.8,90.2 1250.3,84.3 1250.9,79.7 1251.4,76.2 1251.9,73.9 1252.4,72.9 1253.0,73.1 1253.5,74.5 1254.0,77.2 1254.5,81.1 1255.1,86.2 1255.6,92.3 1256.1,99.6 1256.7,107.9 1257.2,117.1 1257.7,127.1 1258.2,137.9 1258.8,149.4 1259.3,161.5 1259.8,174.0 1260.3,186.8 1260.9,199.9 1261.4,213.1 1261.9,226.3 1262.4,239.4 1263.0,252.2 1263.5,264.7 1264.0,276.8 1264.6,288.3 1265.1,299.1 1265.6,309.1 1266.1,318.3 1266.7,326.6 1267.2,333.9 1267.7,340.0 1268.2,345.1 1268.8,349.0 1269.3,351.7 1269.8,353.1 1270.4,353.3 1270.9,352.3 1271.4,350.0 1271.9,346.5 1272.5,341.9 1273.0,336.0 1273.5,329.1 1274.0,321.2 1274.6,312.3 1275.1,302.5 1275.6,292.0 1276.2,280.7 1276.7,268.8 1277.2,256.5 1277.7,243.7 1278.3,230.7 1278.8,217.5 1279.3,204.3 1279.8,191.2 1280.4,178.2 1280.9,165.6 1281.4,153.4 1281.9,141.7 1282.5,130.6 1283.0,120.3 1283.5,110.8 1284.1,102.2 1284.6,94.6 1285.1,88.1 1285.6,82.7 1286.2,78.4 1286.7,75.3 1287.2,73.4 1287.7,72.8 1288.3,73.4 1288.8,75.3 1289.3,78.4 1289.9,82.7 1290.4,88.1 1290.9,94.6 1291.4,102.2 1292.0,110.8 1292.5,120.3 1293.0,130.6 1293.5,141.7 1294.1,153.4 1294.6,165.6 1295.1,178.2 1295.7,191.2 1296.2,204.3 1296.7,217.5 1297.2,230.7 1297.8,243.7 1298.3,256.5 1298.8,268.8 1299.3,280.7 1299.9,292.0 1300.4,302.5 1300.9,312.3 1301.5,321.2 1302.0,329.1 1302.5,336.0 1303.0,341.9 1303.6,346.5 1304.1,350.0 1304.6,352.3 1305.1,353.3 1305.7,353.1 1306.2,351.7 1306.7,349.0 1307.2,345.1 1307.8,340.0 1308.3,333.9 1308.8,326.6 1309.4,318.3 1309.9,309.1 1310.4,299.1 1310.9,288.3 1311.5,276.8 1312.0,264.7 1312.5,252.2 1313.0,239.4 1313.6,226.3 1314.1,213.1" stroke="#f0f02c" stroke-width="1.8" shape-rendering="geometricPrecision"/>
<polyline points="260.0,213.1 286.4,326.6 286.9,327.6 287.4,327.6 287.9,326.4 288.5,324.1 289.0,320.7 289.5,316.2 290.0,310.6 290.6,303.9 291.1,296.3 291.6,287.7 292.2,278.3 292.7,268.1 293.2,257.2 293.7,245.7 294.3,233.8 294.8,221.4 295.3,208.9 295.8,196.2 296.4,183.6 296.9,171.1 297.4,158.9 297.9,147.0 298.5,135.7 299.0,125.0 299.5,115.1 300.1,106.0 300.6,97.9 301.1,90.8 301.6,84.8 302.2,79.9 302.7,76.3 303.2,74.0 303.7,72.9 304.3,73.1 304.8,74.6 305.3,77.4 305.9,81.4 306.4,86.6 306.9,93.0 307.4,100.5 308.0,109.0 308.5,118.3 309.0,128.5 309.5,139.4 310.1,150.9 310.6,162.9 311.1,175.2 311.7,187.8 312.2,200.5 312.7,213.1 313.2,225.6 313.8,237.8 314.3,249.6 314.8,260.9 315.3,271.6 315.9,281.5 316.4,290.7 316.9,298.9 317.4,306.3 318.0,312.6 318.5,317.8 319.0,322.0 319.6,325.0 320.1,326.9 320.6,327.7 321.1,327.4 321.7,326.0 322.2,323.6 322.7,320.2 323.2,315.9 323.8,310.7 324.3,304.8 324.8,298.2 325.4,291.0 325.9,283.3 326.4,275.1 326.9,266.7 327.5,258.1 328.0,249.4 328.5,240.7 329.0,232.2 329.6,223.8 330.1,215.7 330.6,208.0 331.2,200.8 331.7,194.0 332.2,187.9 332.7,182.4 333.3,177.5 333.8,173.4 334.3,169.9 334.8,167.2 335.4,165.3 335.9,164.0 336.4,163.5 336.9,163.6 337.5,164.3 338.0,165.6 338.5,167.4 339.1,169.7 339.6,172.4 340.1,175.5 340.6,178.8 341.2,182.2 341.7,185.8 342.2,189.4 342.7,193.0 343.3,196.5 343.8,199.7 344.3,202.8 344.9,205.5 345.4,207.9 345.9,209.8 346.4,211.3 347.0,212.4 347.5,213.0 348.0,213.1 348.5,212.7 349.1,211.8 349.6,210.4 350.1,208.6 350.7,206.3 351.2,203.7 351.7,200.8 352.2,197.6 352.8,194.2 353.3,190.6 353.8,187.0 354.3,183.4 354.9,179.9 355.4,176.6 355.9,173.4 356.5,170.6 357.0,168.2 357.5,166.2 358.0,164.7 358.6,163.7 359.1,163.4 359.6,163.8 360.1,164.8 360.7,166.5 361.2,169.0 361.7,172.1 362.2,176.1 362.8,180.7 363.3,186.0 363.8,191.9 364.4,198.5 364.9,205.5 365.4,213.1 365.9,221.1 366.5,229.3 367.0,237.9 367.5,246.5 368.0,255.2 368.6,263.9 369.1,272.4 369.6,280.6 370.2,288.4 370.7,295.8 371.2,302.7 371.7,308.9 372.3,314.3 372.8,318.9 373.3,322.6 373.8,325.3 374.4,327.1 374.9,327.7 375.4,327.3 376.0,325.8 376.5,323.1 377.0,319.3 377.5,314.4 378.1,308.5 378.6,301.5 379.1,293.5 379.6,284.7 380.2,275.0 380.7,264.5 381.2,253.4 381.7,241.8 382.3,229.7 382.8,217.3 383.3,204.7 383.9,192.0 384.4,179.4 384.9,167.0 385.4,154.9 386.0,143.2 386.5,132.1 387.0,121.6 387.5,112.0 388.1,103.2 388.6,95.4 389.1,88.6 389.7,83.0 390.2,78.6 390.7,75.4 391.2,73.4 391.8,72.8 392.3,73.4 392.8,75.4 393.3,78.6 393.9,83.0 394.4,88.6 394.9,95.4 395.5,103.2 396.0,112.0 396.5,121.6 397.0,132.1 397.6,143.2 398.1,154.9 398.6,167.0 399.1,179.4 399.7,192.0 400.2,204.7 400.7,217.3 401.2,229.7 401.8,241.8 402.3,253.4 402.8,264.5 403.4,275.0 403.9,284.7 404.4,293.5 404.9,301.5 405.5,308.5 406.0,314.4 406.5,319.3 407.0,323.1 407.6,325.8 408.1,327.3 408.6,327.7 409.2,327.1 409.7,325.3 410.2,322.6 410.7,318.9 411.3,314.3 411.8,308.9 412.3,302.7 412.8,295.8 413.4,288.4 413.9,280.6 414.4,272.4 415.0,263.9 415.5,255.2 416.0,246.5 416.5,237.9 417.1,229.3 417.6,221.1 418.1,213.1 418.6,205.5 419.2,198.5 419.7,191.9 420.2,186.0 420.8,180.7 421.3,176.1 421.8,172.1 422.3,169.0 422.9,166.5 423.4,164.8 423.9,163.8 424.4,163.4 425.0,163.7 425.5,164.7 426.0,166.2 426.5,168.2 427.1,170.6 427.6,173.4 428.1,176.6 428.7,179.9 429.2,183.4 429.7,187.0 430.2,190.6 430.8,194.2 431.3,197.6 431.8,200.8 432.3,203.7 432.9,206.3 433.4,208.6 433.9,210.4 434.5,211.8 435.0,212.7 435.5,213.1 436.0,213.0 436.6,212.4 437.1,211.3 437.6,209.8 438.1,207.9 438.7,205.5 439.2,202.8 439.7,199.7 440.3,196.5 440.8,193.0 441.3,189.4 441.8,185.8 442.4,182.2 442.9,178.8 443.4,175.5 443.9,172.4 444.5,169.7 445.0,167.4 445.5,165.6 446.0,164.3 446.6,163.6 447.1,163.5 447.6,164.0 448.2,165.3 448.7,167.2 449.2,169.9 449.7,173.4 450.3,177.5 450.8,182.4 451.3,187.9 451.8,194.0 452.4,200.8 452.9,208.0 453.4,215.7 454.0,223.8 454.5,232.2 455.0,240.7 455.5,249.4 456.1,258.1 456.6,266.7 457.1,275.1 457.6,283.2 458.2,291.0 458.7,298.2 459.2,304.8 459.8,310.7 460.3,315.9 460.8,320.2 461.3,323.6 461.9,326.0 462.4,327.4 462.9,327.7 463.4,326.9 464.0,325.0 464.5,322.0 465.0,317.8 465.5,312.6 466.1,306.3 466.6,298.9 467.1,290.7 467.7,281.5 468.2,271.6 468.7,260.9 469.2,249.6 469.8,237.8 470.3,225.6 470.8,213.1 471.3,200.5 471.9,187.8 472.4,175.2 472.9,162.9 473.5,150.9 474.0,139.4 474.5,128.5 475.0,118.3 475.6,109.0 476.1,100.5 476.6,93.0 477.1,86.6 477.7,81.4 478.2,77.4 478.7,74.6 479.3,73.1 479.8,72.9 480.3,74.0 480.8,76.3 481.4,79.9 481.9,84.8 482.4,90.8 482.9,97.9 483.5,106.0 484.0,115.1 484.5,125.0 485.1,135.7 485.6,147.0 486.1,158.9 486.6,171.1 487.2,183.6 487.7,196.2 488.2,208.9 488.7,221.4 489.3,233.8 489.8,245.7 490.3,257.2 490.8,268.1 491.4,278.3 491.9,287.7 492.4,296.3 493.0,303.9 493.5,310.6 494.0,316.2 494.5,320.7 495.1,324.1 495.6,326.4 496.1,327.6 496.6,327.6 497.2,326.6 497.7,324.5 498.2,321.5 498.8,317.4 499.3,312.6 499.8,306.9 500.3,300.5 500.9,293.4 501.4,285.9 501.9,277.9 502.4,269.6 503.0,261.0 503.5,252.3 504.0,243.6 504.6,235.0 505.1,226.6 505.6,218.4 506.1,210.5 506.7,203.1 507.2,196.2 507.7,189.9 508.2,184.1 508.8,179.1 509.3,174.7 509.8,171.0 510.3,168.1 510.9,165.8 511.4,164.4 511.9,163.6 512.5,163.5 513.0,164.0 513.5,165.1 514.0,166.8 514.6,168.9 515.1,171.5 515.6,174.4 516.1,177.7 516.7,181.1 517.2,184.6 517.7,188.2 518.3,191.8 518.8,195.3 519.3,198.7 519.8,201.8 520.4,204.6 520.9,207.1 521.4,209.2 521.9,210.9 522.5,212.1 523.0,212.9 523.5,213.1 524.1,212.9 524.6,212.1 525.1,210.9 525.6,209.2 526.2,207.1 526.7,204.6 527.2,201.8 527.7,198.7 528.3,195.3 528.8,191.8 529.3,188.2 529.8,184.6 530.4,181.1 530.9,177.7 531.4,174.4 532.0,171.5 532.5,168.9 533.0,166.8 533.5,165.1 534.1,164.0 534.6,163.5 535.1,163.6 535.6,164.4 536.2,165.8 536.7,168.1 537.2,171.0 537.8,174.7 538.3,179.1 538.8,184.1 539.3,189.9 539.9,196.2 540.4,203.1 540.9,210.5 541.4,218.4 542.0,226.6 542.5,235.0 543.0,243.6 543.6,252.3 544.1,261.0 544.6,269.6 545.1,277.9 545.7,285.9 546.2,293.4 546.7,300.5 547.2,306.9 547.8,312.6 548.3,317.4 548.8,321.5 549.4,324.5 549.9,326.6 550.4,327.6 550.9,327.6 551.5,326.4 552.0,324.1 552.5,320.7 553.0,316.2 553.6,310.6 554.1,303.9 554.6,296.3 555.1,287.7 555.7,278.3 556.2,268.1 556.7,257.2 557.3,245.7 557.8,233.8 558.3,221.4 558.8,208.9 559.4,196.2 559.9,183.6 560.4,171.1 560.9,158.9 561.5,147.0 562.0,135.7 562.5,125.0 563.1,115.1 563.6,106.0 564.1,97.9 564.6,90.8 565.2,84.8 565.7,79.9 566.2,76.3 566.7,74.0 567.3,72.9 567.8,73.1 568.3,74.6 568.9,77.4 569.4,81.4 569.9,86.6 570.4,93.0 571.0,100.5 571.5,109.0 572.0,118.3 572.5,128.5 573.1,139.4 573.6,150.9 574.1,162.9 574.6,175.2 575.2,187.8 575.7,200.5 576.2,213.1 576.8,225.6 577.3,237.8 577.8,249.6 578.3,260.9 578.9,271.6 579.4,281.5 579.9,290.7 580.4,298.9 581.0,306.3 581.5,312.6 582.0,317.8 582.6,322.0 583.1,325.0 583.6,326.9 584.1,327.7 584.7,327.4 585.2,326.0 585.7,323.6 586.2,320.2 586.8,315.9 587.3,310.7 587.8,304.8 588.4,298.2 588.9,291.0 589.4,283.3 589.9,275.1 590.5,266.7 591.0,258.1 591.5,249.4 592.0,240.7 592.6,232.2 593.1,223.8 593.6,215.7 594.1,208.0 594.7,200.8 595.2,194.0 595.7,187.9 596.3,182.4 596.8,177.5 597.3,173.4 597.8,169.9 598.4,167.2 598.9,165.3 599.4,164.0 599.9,163.5 600.5,163.6 601.0,164.3 601.5,165.6 602.1,167.4 602.6,169.7 603.1,172.4 603.6,175.5 604.2,178.8 604.7,182.2 605.2,185.8 605.7,189.4 606.3,193.0 606.8,196.5 607.3,199.7 607.9,202.8 608.4,205.5 608.9,207.9 609.4,209.8 610.0,211.3 610.5,212.4 611.0,213.0 611.5,213.1 612.1,212.7 612.6,211.8 613.1,210.4 613.7,208.6 614.2,206.3 614.7,203.7 615.2,200.8 615.8,197.6 616.3,194.2 616.8,190.6 617.3,187.0 617.9,183.4 618.4,179.9 618.9,176.6 619.4,173.4 620.0,170.6 620.5,168.2 621.0,166.2 621.6,164.7 622.1,163.7 622.6,163.4 623.1,163.8 623.7,164.8 624.2,166.5 624.7,169.0 625.2,172.1 625.8,176.1 626.3,180.7 626.8,186.0 627.4,191.9 627.9,198.5 628.4,205.5 628.9,213.1 629.5,221.1 630.0,229.3 630.5,237.9 631.0,246.5 631.6,255.2 632.1,263.9 632.6,272.4 633.2,280.6 633.7,288.4 634.2,295.8 634.7,302.7 635.3,308.9 635.8,314.3 636.3,318.9 636.8,322.6 637.4,325.3 637.9,327.1 638.4,327.7 638.9,327.3 639.5,325.8 640.0,323.1 640.5,319.3 641.1,314.4 641.6,308.5 642.1,301.5 642.6,293.5 643.2,284.7 643.7,275.0 644.2,264.5 644.7,253.4 645.3,241.8 645.8,229.7 646.3,217.3 646.9,204.7 647.4,192.0 647.9,179.4 648.4,167.0 649.0,154.9 649.5,143.2 650.0,132.1 650.5,121.6 651.1,112.0 651.6,103.2 652.1,95.4 652.7,88.6 653.2,83.0 653.7,78.6 654.2,75.4 654.8,73.4 655.3,72.8 655.8,73.4 656.3,75.4 656.9,78.6 657.4,83.0 657.9,88.6 658.4,95.4 659.0,103.2 659.5,112.0 660.0,121.6 660.6,132.1 661.1,143.2 661.6,154.9 662.1,167.0 662.7,179.4 663.2,192.0 663.7,204.7 664.2,217.3 664.8,229.7 665.3,241.8 665.8,253.4 666.4,264.5 666.9,275.0 667.4,284.7 667.9,293.5 668.5,301.5 669.0,308.5 669.5,314.4 670.0,319.3 670.6,323.1 671.1,325.8 671.6,327.3 672.2,327.7 672.7,327.1 673.2,325.3 673.7,322.6 674.3,318.9 674.8,314.3 675.3,308.9 675.8,302.7 676.4,295.8 676.9,288.4 677.4,280.6 678.0,272.4 678.5,263.9 679.0,255.2 679.5,246.5 680.1,237.9 680.6,229.3 681.1,221.1 681.6,213.1 682.2,205.5 682.7,198.5 683.2,191.9 683.7,186.0 684.3,180.7 684.8,176.1 685.3,172.1 685.9,169.0 686.4,166.5 686.9,164.8 687.4,163.8 688.0,163.4 688.5,163.7 689.0,164.7 689.5,166.2 690.1,168.2 690.6,170.6 691.1,173.4 691.7,176.6 692.2,179.9 692.7,183.4 693.2,187.0 693.8,190.6 694.3,194.2 694.8,197.6 695.3,200.8 695.9,203.7 696.4,206.3 696.9,208.6 697.5,210.4 698.0,211.8 698.5,212.7 699.0,213.1 699.6,213.0 700.1,212.4 700.6,211.3 701.1,209.8 701.7,207.9 702.2,205.5 702.7,202.8 703.2,199.7 703.8,196.5 704.3,193.0 704.8,189.4 705.4,185.8 705.9,182.2 706.4,178.8 706.9,175.5 707.5,172.4 708.0,169.7 708.5,167.4 709.0,165.6 709.6,164.3 710.1,163.6 710.6,163.5 711.2,164.0 711.7,165.3 712.2,167.2 712.7,169.9 713.3,173.4 713.8,177.5 714.3,182.4 714.8,187.9 715.4,194.0 715.9,200.8 716.4,208.0 717.0,215.7 717.5,223.8 718.0,232.2 718.5,240.7 719.1,249.4 719.6,258.1 720.1,266.7 720.6,275.1 721.2,283.2 721.7,291.0 722.2,298.2 722.7,304.8 723.3,310.7 723.8,315.9 724.3,320.2 724.9,323.6 725.4,326.0 725.9,327.4 726.4,327.7 727.0,326.9 727.5,325.0 728.0,322.0 728.5,317.8 729.1,312.6 729.6,306.3 730.1,298.9 730.7,290.7 731.2,281.5 731.7,271.6 732.2,260.9 732.8,249.6 733.3,237.8 733.8,225.6 734.3,213.1 734.9,200.5 735.4,187.8 735.9,175.2 736.5,162.9 737.0,150.9 737.5,139.4 738.0,128.5 738.6,118.3 739.1,109.0 739.6,100.5 740.1,93.0 740.7,86.6 741.2,81.4 741.7,77.4 742.3,74.6 742.8,73.1 743.3,72.9 743.8,74.0 744.4,76.3 744.9,79.9 745.4,84.8 745.9,90.8 746.5,97.9 747.0,106.0 747.5,115.1 748.0,125.0 748.6,135.7 749.1,147.0 749.6,158.9 750.2,171.1 750.7,183.6 751.2,196.2 751.7,208.9 752.3,221.4 752.8,233.8 753.3,245.7 753.8,257.2 754.4,268.1 754.9,278.3 755.4,287.7 756.0,296.3 756.5,303.9 757.0,310.6 757.5,316.2 758.1,320.7 758.6,324.1 759.1,326.4 759.6,327.6 760.2,327.6 760.7,326.6 761.2,324.5 761.8,321.5 762.3,317.4 762.8,312.6 763.3,306.9 763.9,300.5 764.4,293.4 764.9,285.9 765.4,277.9 766.0,269.6 766.5,261.0 767.0,252.3 767.5,243.6 768.1,235.0 768.6,226.6 769.1,218.4 769.7,210.5 770.2,203.1 770.7,196.2 771.2,189.9 771.8,184.1 772.3,179.1 772.8,174.7 773.3,171.0 773.9,168.1 774.4,165.8 774.9,164.4 775.5,163.6 776.0,163.5 776.5,164.0 777.0,165.1 777.6,166.8 778.1,168.9 778.6,171.5 779.1,174.4 779.7,177.7 780.2,181.1 780.7,184.6 781.3,188.2 781.8,191.8 782.3,195.3 782.8,198.7 783.4,201.8 783.9,204.6 784.4,207.1 784.9,209.2 785.5,210.9 786.0,212.1 786.5,212.9 787.0,213.1 787.6,212.9 788.1,212.1 788.6,210.9 789.2,209.2 789.7,207.1 790.2,204.6 790.7,201.8 791.3,198.7 791.8,195.3 792.3,191.8 792.8,188.2 793.4,184.6 793.9,181.1 794.4,177.7 795.0,174.4 795.5,171.5 796.0,168.9 796.5,166.8 797.1,165.1 797.6,164.0 798.1,163.5 798.6,163.6 799.2,164.4 799.7,165.8 800.2,168.1 800.8,171.0 801.3,174.7 801.8,179.1 802.3,184.1 802.9,189.9 803.4,196.2 803.9,203.1 804.4,210.5 805.0,218.4 805.5,226.6 806.0,235.0 806.6,243.6 807.1,252.3 807.6,261.0 808.1,269.6 808.7,277.9 809.2,285.9 809.7,293.4 810.2,300.5 810.8,306.9 811.3,312.6 811.8,317.4 812.3,321.5 812.9,324.5 813.4,326.6 813.9,327.6 814.5,327.6 815.0,326.4 815.5,324.1 816.0,320.7 816.6,316.2 817.1,310.6 817.6,303.9 818.1,296.3 818.7,287.7 819.2,278.3 819.7,268.1 820.3,257.2 820.8,245.7 821.3,233.8 821.8,221.4 822.4,208.9 822.9,196.2 823.4,183.6 823.9,171.1 824.5,158.9 825.0,147.0 825.5,135.7 826.1,125.0 826.6,115.1 827.1,106.0 827.6,97.9 828.2,90.8 828.7,84.8 829.2,79.9 829.7,76.3 830.3,74.0 830.8,72.9 831.3,73.1 831.8,74.6 832.4,77.4 832.9,81.4 833.4,86.6 834.0,93.0 834.5,100.5 835.0,109.0 835.5,118.3 836.1,128.5 836.6,139.4 837.1,150.9 837.6,162.9 838.2,175.2 838.7,187.8 839.2,200.5 839.8,213.1 840.3,225.6 840.8,237.8 841.3,249.6 841.9,260.9 842.4,271.6 842.9,281.5 843.4,290.7 844.0,298.9 844.5,306.3 845.0,312.6 845.6,317.8 846.1,322.0 846.6,325.0 847.1,326.9 847.7,327.7 848.2,327.4 848.7,326.0 849.2,323.6 849.8,320.2 850.3,315.9 850.8,310.7 851.4,304.8 851.9,298.2 852.4,291.0 852.9,283.3 853.5,275.1 854.0,266.7 854.5,258.1 855.0,249.4 855.6,240.7 856.1,232.2 856.6,223.8 857.1,215.7 857.7,208.0 858.2,200.8 858.7,194.0 859.3,187.9 859.8,182.4 860.3,177.5 860.8,173.4 861.4,169.9 861.9,167.2 862.4,165.3 862.9,164.0 863.5,163.5 864.0,163.6 864.5,164.3 865.1,165.6 865.6,167.4 866.1,169.7 866.6,172.4 867.2,175.5 867.7,178.8 868.2,182.2 868.7,185.8 869.3,189.4 869.8,193.0 870.3,196.5 870.9,199.7 871.4,202.8 871.9,205.5 872.4,207.9 873.0,209.8 873.5,211.3 874.0,212.4 874.5,213.0 875.1,213.1 875.6,212.7 876.1,211.8 876.6,210.4 877.2,208.6 877.7,206.3 878.2,203.7 878.8,200.8 879.3,197.6 879.8,194.2 880.3,190.6 880.9,187.0 881.4,183.4 881.9,179.9 882.4,176.6 883.0,173.4 883.5,170.6 884.0,168.2 884.6,166.2 885.1,164.7 885.6,163.7 886.1,163.4 886.7,163.8 887.2,164.8 887.7,166.5 888.2,169.0 888.8,172.1 889.3,176.1 889.8,180.7 890.4,186.0 890.9,191.9 891.4,198.5 891.9,205.5 892.5,213.1 893.0,221.1 893.5,229.3 894.0,237.9 894.6,246.5 895.1,255.2 895.6,263.9 896.1,272.4 896.7,280.6 897.2,288.4 897.7,295.8 898.3,302.7 898.8,308.9 899.3,314.3 899.8,318.9 900.4,322.6 900.9,325.3 901.4,327.1 901.9,327.7 902.5,327.3 903.0,325.8 903.5,323.1 904.1,319.3 904.6,314.4 905.1,308.5 905.6,301.5 906.2,293.5 906.7,284.7 907.2,275.0 907.7,264.5 908.3,253.4 908.8,241.8 909.3,229.7 909.9,217.3 910.4,204.7 910.9,192.0 911.4,179.4 912.0,167.0 912.5,154.9 913.0,143.2 913.5,132.1 914.1,121.6 914.6,112.0 915.1,103.2 915.7,95.4 916.2,88.6 916.7,83.0 917.2,78.6 917.8,75.4 918.3,73.4 918.8,72.8 919.3,73.4 919.9,75.4 920.4,78.6 920.9,83.0 921.4,88.6 922.0,95.4 922.5,103.2 923.0,112.0 923.6,121.6 924.1,132.1 924.6,143.2 925.1,154.9 925.7,167.0 926.2,179.4 926.7,192.0 927.2,204.7 927.8,217.3 928.3,229.7 928.8,241.8 929.4,253.4 929.9,264.5 930.4,275.0 930.9,284.7 931.5,293.5 932.0,301.5 932.5,308.5 933.0,314.4 933.6,319.3 934.1,323.1 934.6,325.8 935.2,327.3 935.7,327.7 936.2,327.1 936.7,325.3 937.3,322.6 937.8,318.9 938.3,314.3 938.8,308.9 939.4,302.7 939.9,295.8 940.4,288.4 940.9,280.6 941.5,272.4 942.0,263.9 942.5,255.2 943.1,246.5 943.6,237.9 944.1,229.3 944.6,221.1 945.2,213.1 945.7,205.5 946.2,198.5 946.7,191.9 947.3,186.0 947.8,180.7 948.3,176.1 948.9,172.1 949.4,169.0 949.9,166.5 950.4,164.8 951.0,163.8 951.5,163.4 952.0,163.7 952.5,164.7 953.1,166.2 953.6,168.2 954.1,170.6 954.7,173.4 955.2,176.6 955.7,179.9 956.2,183.4 956.8,187.0 957.3,190.6 957.8,194.2 958.3,197.6 958.9,200.8 959.4,203.7 959.9,206.3 960.4,208.6 961.0,210.4 961.5,211.8 962.0,212.7 962.6,213.1 963.1,213.0 963.6,212.4 964.1,211.3 964.7,209.8 965.2,207.9 965.7,205.5 966.2,202.8 966.8,199.7 967.3,196.5 967.8,193.0 968.4,189.4 968.9,185.8 969.4,182.2 969.9,178.8 970.5,175.5 971.0,172.4 971.5,169.7 972.0,167.4 972.6,165.6 973.1,164.3 973.6,163.6 974.2,163.5 974.7,164.0 975.2,165.3 975.7,167.2 976.3,169.9 976.8,173.4 977.3,177.5 977.8,182.4 978.4,187.9 978.9,194.0 979.4,200.8 980.0,208.0 980.5,215.7 981.0,223.8 981.5,232.2 982.1,240.7 982.6,249.4 983.1,258.1 983.6,266.7 984.2,275.1 984.7,283.2 985.2,291.0 985.7,298.2 986.3,304.8 986.8,310.7 987.3,315.9 987.9,320.2 988.4,323.6 988.9,326.0 989.4,327.4 990.0,327.7 990.5,326.9 991.0,325.0 991.5,322.0 992.1,317.8 992.6,312.6 993.1,306.3 993.7,298.9 994.2,290.7 994.7,281.5 995.2,271.6 995.8,260.9 996.3,249.6 996.8,237.8 997.3,225.6 997.9,213.1 998.4,200.5 998.9,187.8 999.5,175.2 1000.0,162.9 1000.5,150.9 1001.0,139.4 1001.6,128.5 1002.1,118.3 1002.6,109.0 1003.1,100.5 1003.7,93.0 1004.2,86.6 1004.7,81.4 1005.2,77.4 1005.8,74.6 1006.3,73.1 1006.8,72.9 1007.4,74.0 1007.9,76.3 1008.4,79.9 1008.9,84.8 1009.5,90.8 1010.0,97.9 1010.5,106.0 1011.0,115.1 1011.6,125.0 1012.1,135.7 1012.6,147.0 1013.2,158.9 1013.7,171.1 1014.2,183.6 1014.7,196.2 1015.3,208.9 1015.8,221.4 1016.3,233.8 1016.8,245.7 1017.4,257.2 1017.9,268.1 1018.4,278.3 1019.0,287.7 1019.5,296.3 1020.0,303.9 1020.5,310.6 1021.1,316.2 1021.6,320.7 1022.1,324.1 1022.6,326.4 1023.2,327.6 1023.7,327.6 1024.2,326.6 1024.7,324.5 1025.3,321.5 1025.8,317.4 1026.3,312.6 1026.9,306.9 1027.4,300.5 1027.9,293.4 1028.4,285.9 1029.0,277.9 1029.5,269.6 1030.0,261.0 1030.5,252.3 1031.1,243.6 1031.6,235.0 1032.1,226.6 1032.7,218.4 1033.2,210.5 1033.7,203.1 1034.2,196.2 1034.8,189.9 1035.3,184.1 1035.8,179.1 1036.3,174.7 1036.9,171.0 1037.4,168.1 1037.9,165.8 1038.5,164.4 1039.0,163.6 1039.5,163.5 1040.0,164.0 1040.6,165.1 1041.1,166.8 1041.6,168.9 1042.1,171.5 1042.7,174.4 1043.2,177.7 1043.7,181.1 1044.3,184.6 1044.8,188.2 1045.3,191.8 1045.8,195.3 1046.4,198.7 1046.9,201.8 1047.4,204.6 1047.9,207.1 1048.5,209.2 1049.0,210.9 1049.5,212.1 1050.0,212.9 1050.6,213.1 1051.1,212.9 1051.6,212.1 1052.2,210.9 1052.7,209.2 1053.2,207.1 1053.7,204.6 1054.3,201.8 1054.8,198.7 1055.3,195.3 1055.8,191.8 1056.4,188.2 1056.9,184.6 1057.4,181.1 1058.0,177.7 1058.5,174.4 1059.0,171.5 1059.5,168.9 1060.1,166.8 1060.6,165.1 1061.1,164.0 1061.6,163.5 1062.2,163.6 1062.7,164.4 1063.2,165.8 1063.8,168.1 1064.3,171.0 1064.8,174.7 1065.3,179.1 1065.9,184.1 1066.4,189.9 1066.9,196.2 1067.4,203.1 1068.0,210.5 1068.5,218.4 1069.0,226.6 1069.5,235.0 1070.1,243.6 1070.6,252.3 1071.1,261.0 1071.7,269.6 1072.2,277.9 1072.7,285.9 1073.2,293.4 1073.8,300.5 1074.3,306.9 1074.8,312.6 1075.3,317.4 1075.9,321.5 1076.4,324.5 1076.9,326.6 1077.5,327.6 1078.0,327.6 1078.5,326.4 1079.0,324.1 1079.6,320.7 1080.1,316.2 1080.6,310.6 1081.1,303.9 1081.7,296.3 1082.2,287.7 1082.7,278.3 1083.3,268.1 1083.8,257.2 1084.3,245.7 1084.8,233.8 1085.4,221.4 1085.9,208.9 1086.4,196.2 1086.9,183.6 1087.5,171.1 1088.0,158.9 1088.5,147.0 1089.0,135.7 1089.6,125.0 1090.1,115.1 1090.6,106.0 1091.2,97.9 1091.7,90.8 1092.2,84.8 1092.7,79.9 1093.3,76.3 1093.8,74.0 1094.3,72.9 1094.8,73.1 1095.4,74.6 1095.9,77.4 1096.4,81.4 1097.0,86.6 1097.5,93.0 1098.0,100.5 1098.5,109.0 1099.1,118.3 1099.6,128.5 1100.1,139.4 1100.6,150.9 1101.2,162.9 1101.7,175.2 1102.2,187.8 1102.8,200.5 1103.3,213.1 1103.8,225.6 1104.3,237.8 1104.9,249.6 1105.4,260.9 1105.9,271.6 1106.4,281.5 1107.0,290.7 1107.5,298.9 1108.0,306.3 1108.6,312.6 1109.1,317.8 1109.6,322.0 1110.1,325.0 1110.7,326.9 1111.2,327.7 1111.7,327.4 1112.2,326.0 1112.8,323.6 1113.3,320.2 1113.8,315.9 1114.3,310.7 1114.9,304.8 1115.4,298.2 1115.9,291.0 1116.5,283.3 1117.0,275.1 1117.5,266.7 1118.0,258.1 1118.6,249.4 1119.1,240.7 1119.6,232.2 1120.1,223.8 1120.7,215.7 1121.2,208.0 1121.7,200.8 1122.3,194.0 1122.8,187.9 1123.3,182.4 1123.8,177.5 1124.4,173.4 1124.9,169.9 1125.4,167.2 1125.9,165.3 1126.5,164.0 1127.0,163.5 1127.5,163.6 1128.1,164.3 1128.6,165.6 1129.1,167.4 1129.6,169.7 1130.2,172.4 1130.7,175.5 1131.2,178.8 1131.7,182.2 1132.3,185.8 1132.8,189.4 1133.3,193.0 1133.8,196.5 1134.4,199.7 1134.9,202.8 1135.4,205.5 1136.0,207.9 1136.5,209.8 1137.0,211.3 1137.5,212.4 1138.1,213.0 1138.6,213.1 1139.1,212.7 1139.6,211.8 1140.2,210.4 1140.7,208.6 1141.2,206.3 1141.8,203.7 1142.3,200.8 1142.8,197.6 1143.3,194.2 1143.9,190.6 1144.4,187.0 1144.9,183.4 1145.4,179.9 1146.0,176.6 1146.5,173.4 1147.0,170.6 1147.6,168.2 1148.1,166.2 1148.6,164.7 1149.1,163.7 1149.7,163.4 1150.2,163.8 1150.7,164.8 1151.2,166.5 1151.8,169.0 1152.3,172.1 1152.8,176.1 1153.3,180.7 1153.9,186.0 1154.4,191.9 1154.9,198.5 1155.5,205.5 1156.0,213.1 1156.5,221.1 1157.0,229.3 1157.6,237.9 1158.1,246.5 1158.6,255.2 1159.1,263.9 1159.7,272.4 1160.2,280.6 1160.7,288.4 1161.3,295.8 1161.8,302.7 1162.3,308.9 1162.8,314.3 1163.4,318.9 1163.9,322.6 1164.4,325.3 1164.9,327.1 1165.5,327.7 1166.0,327.3 1166.5,325.8 1167.1,323.1 1167.6,319.3 1168.1,314.4 1168.6,308.5 1169.2,301.5 1169.7,293.5 1170.2,284.7 1170.7,275.0 1171.3,264.5 1171.8,253.4 1172.3,241.8 1172.9,229.7 1173.4,217.3 1173.9,204.7 1174.4,192.0 1175.0,179.4 1175.5,167.0 1176.0,154.9 1176.5,143.2 1177.1,132.1 1177.6,121.6 1178.1,112.0 1178.6,103.2 1179.2,95.4 1179.7,88.6 1180.2,83.0 1180.8,78.6 1181.3,75.4 1181.8,73.4 1182.3,72.8 1182.9,73.4 1183.4,75.4 1183.9,78.6 1184.4,83.0 1185.0,88.6 1185.5,95.4 1186.0,103.2 1186.6,112.0 1187.1,121.6 1187.6,132.1 1188.1,143.2 1188.7,154.9 1189.2,167.0 1189.7,179.4 1190.2,192.0 1190.8,204.7 1191.3,217.3 1191.8,229.7 1192.4,241.8 1192.9,253.4 1193.4,264.5 1193.9,275.0 1194.5,284.7 1195.0,293.5 1195.5,301.5 1196.0,308.5 1196.6,314.4 1197.1,319.3 1197.6,323.1 1198.1,325.8 1198.7,327.3 1199.2,327.7 1199.7,327.1 1200.3,325.3 1200.8,322.6 1201.3,318.9 1201.8,314.3 1202.4,308.9 1202.9,302.7 1203.4,295.8 1203.9,288.4 1204.5,280.6 1205.0,272.4 1205.5,263.9 1206.1,255.2 1206.6,246.5 1207.1,237.9 1207.6,229.3 1208.2,221.1 1208.7,213.1 1209.2,205.5 1209.7,198.5 1210.3,191.9 1210.8,186.0 1211.3,180.7 1211.9,176.1 1212.4,172.1 1212.9,169.0 1213.4,166.5 1214.0,164.8 1214.5,163.8 1215.0,163.4 1215.5,163.7 1216.1,164.7 1216.6,166.2 1217.1,168.2 1217.6,170.6 1218.2,173.4 1218.7,176.6 1219.2,179.9 1219.8,183.4 1220.3,187.0 1220.8,190.6 1221.3,194.2 1221.9,197.6 1222.4,200.8 1222.9,203.7 1223.4,206.3 1224.0,208.6 1224.5,210.4 1225.0,211.8 1225.6,212.7 1226.1,213.1 1226.6,213.0 1227.1,212.4 1227.7,211.3 1228.2,209.8 1228.7,207.9 1229.2,205.5 1229.8,202.8 1230.3,199.7 1230.8,196.5 1231.4,193.0 1231.9,189.4 1232.4,185.8 1232.9,182.2 1233.5,178.8 1234.0,175.5 1234.5,172.4 1235.0,169.7 1235.6,167.4 1236.1,165.6 1236.6,164.3 1237.2,163.6 1237.7,163.5 1238.2,164.0 1238.7,165.3 1239.3,167.2 1239.8,169.9 1240.3,173.4 1240.8,177.5 1241.4,182.4 1241.9,187.9 1242.4,194.0 1242.9,200.8 1243.5,208.0 1244.0,215.7 1244.5,223.8 1245.1,232.2 1245.6,240.7 1246.1,249.4 1246.6,258.1 1247.2,266.7 1247.7,275.1 1248.2,283.2 1248.7,291.0 1249.3,298.2 1249.8,304.8 1250.3,310.7 1250.9,315.9 1251.4,320.2 1251.9,323.6 1252.4,326.0 1253.0,327.4 1253.5,327.7 1254.0,326.9 1254.5,325.0 1255.1,322.0 1255.6,317.8 1256.1,312.6 1256.7,306.3 1257.2,298.9 1257.7,290.7 1258.2,281.5 1258.8,271.6 1259.3,260.9 1259.8,249.6 1260.3,237.8 1260.9,225.6 1261.4,213.1 1261.9,200.5 1262.4,187.8 1263.0,175.2 1263.5,162.9 1264.0,150.9 1264.6,139.4 1265.1,128.5 1265.6,118.3 1266.1,109.0 1266.7,100.5 1267.2,93.0 1267.7,86.6 1268.2,81.4 1268.8,77.4 1269.3,74.6 1269.8,73.1 1270.4,72.9 1270.9,74.0 1271.4,76.3 1271.9,79.9 1272.5,84.8 1273.0,90.8 1273.5,97.9 1274.0,106.0 1274.6,115.1 1275.1,125.0 1275.6,135.7 1276.2,147.0 1276.7,158.9 1277.2,171.1 1277.7,183.6 1278.3,196.2 1278.8,208.9 1279.3,221.4 1279.8,233.8 1280.4,245.7 1280.9,257.2 1281.4,268.1 1281.9,278.3 1282.5,287.7 1283.0,296.3 1283.5,303.9 1284.1,310.6 1284.6,316.2 1285.1,320.7 1285.6,324.1 1286.2,326.4 1286.7,327.6 1287.2,327.6 1287.7,326.6 1288.3,324.5 1288.8,321.5 1289.3,317.4 1289.9,312.6 1290.4,306.9 1290.9,300.5 1291.4,293.4 1292.0,285.9 1292.5,277.9 1293.0,269.6 1293.5,261.0 1294.1,252.3 1294.6,243.6 1295.1,235.0 1295.7,226.6 1296.2,218.4 1296.7,210.5 1297.2,203.1 1297.8,196.2 1298.3,189.9 1298.8,184.1 1299.3,179.1 1299.9,174.7 1300.4,171.0 1300.9,168.1 1301.5,165.8 1302.0,164.4 1302.5,163.6 1303.0,163.5 1303.6,164.0 1304.1,165.1 1304.6,166.8 1305.1,168.9 1305.7,171.5 1306.2,174.4 1306.7,177.7 1307.2,181.1 1307.8,184.6 1308.3,188.2 1308.8,191.8 1309.4,195.3 1309.9,198.7 1310.4,201.8 1310.9,204.6 1311.5,207.1 1312.0,209.2 1312.5,210.9 1313.0,212.1 1313.6,212.9 1314.1,213.1" stroke="#0000ff" stroke-width="2.3" shape-rendering="geometricPrecision"/>
<polyline points="260.0,213.1 286.4,99.6 286.9,98.1 287.4,96.6 287.9,95.1 288.5,93.7 289.0,92.3 289.5,91.0 290.0,89.7 290.6,88.5 291.1,87.3 291.6,86.2 292.2,85.0 292.7,84.0 293.2,83.0 293.7,82.0 294.3,81.1 294.8,80.2 295.3,79.4 295.8,78.6 296.4,77.9 296.9,77.2 297.4,76.6 297.9,76.0 298.5,75.5 299.0,75.0 299.5,74.5 300.1,74.1 300.6,73.8 301.1,73.5 301.6,73.3 302.2,73.1 302.7,72.9 303.2,72.8 303.7,72.8 304.3,72.8 304.8,72.9 305.3,73.0 305.9,73.1 306.4,73.3 306.9,73.6 307.4,73.9 308.0,74.3 308.5,74.7 309.0,75.1 309.5,75.6 310.1,76.2 310.6,76.8 311.1,77.4 311.7,78.1 312.2,78.9 312.7,79.7 313.2,80.5 313.8,81.4 314.3,82.3 314.8,83.3 315.3,84.3 315.9,85.4 316.4,86.5 316.9,87.7 317.4,88.9 318.0,90.2 318.5,91.4 319.0,92.8 319.6,94.2 320.1,95.6 320.6,97.1 321.1,98.6 321.7,100.1 322.2,101.7 322.7,103.3 323.2,105.0 323.8,106.7 324.3,108.4 324.8,110.2 325.4,112.0 325.9,113.9 326.4,115.8 326.9,117.7 327.5,119.7 328.0,121.6 328.5,123.7 329.0,125.7 329.6,127.8 330.1,129.9 330.6,132.1 331.2,134.2 331.7,136.4 332.2,138.7 332.7,140.9 333.3,143.2 333.8,145.5 334.3,147.8 334.8,150.2 335.4,152.6 335.9,155.0 336.4,157.4 336.9,159.8 337.5,162.3 338.0,164.7 338.5,167.2 339.1,169.7 339.6,172.3 340.1,174.8 340.6,177.4 341.2,179.9 341.7,182.5 342.2,185.1 342.7,187.7 343.3,190.3 343.8,192.9 344.3,195.5 344.9,198.1 345.4,200.8 345.9,203.4 346.4,206.1 347.0,208.7 347.5,211.3 348.0,214.0 348.5,216.6 349.1,219.3 349.6,221.9 350.1,224.5 350.7,227.2 351.2,229.8 351.7,232.4 352.2,235.0 352.8,237.7 353.3,240.3 353.8,242.8 354.3,245.4 354.9,248.0 355.4,250.5 355.9,253.1 356.5,255.6 357.0,258.1 357.5,260.6 358.0,263.1 358.6,265.6 359.1,268.0 359.6,270.4 360.1,272.8 360.7,275.2 361.2,277.6 361.7,279.9 362.2,282.2 362.8,284.5 363.3,286.8 363.8,289.0 364.4,291.2 364.9,293.4 365.4,295.6 365.9,297.7 366.5,299.8 367.0,301.8 367.5,303.9 368.0,305.9 368.6,307.8 369.1,309.8 369.6,311.7 370.2,313.5 370.7,315.4 371.2,317.2 371.7,318.9 372.3,320.6 372.8,322.3 373.3,324.0 373.8,325.6 374.4,327.1 374.9,328.6 375.4,330.1 376.0,331.6 376.5,333.0 377.0,334.3 377.5,335.6 378.1,336.9 378.6,338.1 379.1,339.3 379.6,340.4 380.2,341.5 380.7,342.6 381.2,343.5 381.7,344.5 382.3,345.4 382.8,346.3 383.3,347.1 383.9,347.8 384.4,348.5 384.9,349.2 385.4,349.8 386.0,350.4 386.5,350.9 387.0,351.4 387.5,351.8 388.1,352.2 388.6,352.5 389.1,352.8 389.7,353.0 390.2,353.2 390.7,353.3 391.2,353.4 391.8,353.4 392.3,353.4 392.8,353.3 393.3,353.2 393.9,353.0 394.4,352.8 394.9,352.5 395.5,352.2 396.0,351.8 396.5,351.4 397.0,350.9 397.6,350.4 398.1,349.8 398.6,349.2 399.1,348.5 399.7,347.8 400.2,347.1 400.7,346.3 401.2,345.4 401.8,344.5 402.3,343.5 402.8,342.6 403.4,341.5 403.9,340.4 404.4,339.3 404.9,338.1 405.5,336.9 406.0,335.6 406.5,334.3 407.0,333.0 407.6,331.6 408.1,330.1 408.6,328.6 409.2,327.1 409.7,325.6 410.2,324.0 410.7,322.3 411.3,320.6 411.8,318.9 412.3,317.2 412.8,315.4 413.4,313.5 413.9,311.7 414.4,309.8 415.0,307.8 415.5,305.9 416.0,303.9 416.5,301.8 417.1,299.8 417.6,297.7 418.1,295.6 418.6,293.4 419.2,291.2 419.7,289.0 420.2,286.8 420.8,284.5 421.3,282.2 421.8,279.9 422.3,277.6 422.9,275.2 423.4,272.8 423.9,270.4 424.4,268.0 425.0,265.6 425.5,263.1 426.0,260.6 426.5,258.1 427.1,255.6 427.6,253.1 428.1,250.5 428.7,248.0 429.2,245.4 429.7,242.8 430.2,240.3 430.8,237.7 431.3,235.0 431.8,232.4 432.3,229.8 432.9,227.2 433.4,224.5 433.9,221.9 434.5,219.3 435.0,216.6 435.5,214.0 436.0,211.3 436.6,208.7 437.1,206.1 437.6,203.4 438.1,200.8 438.7,198.1 439.2,195.5 439.7,192.9 440.3,190.3 440.8,187.7 441.3,185.1 441.8,182.5 442.4,179.9 442.9,177.4 443.4,174.8 443.9,172.3 444.5,169.7 445.0,167.2 445.5,164.7 446.0,162.3 446.6,159.8 447.1,157.4 447.6,155.0 448.2,152.6 448.7,150.2 449.2,147.8 449.7,145.5 450.3,143.2 450.8,140.9 451.3,138.7 451.8,136.4 452.4,134.2 452.9,132.1 453.4,129.9 454.0,127.8 454.5,125.7 455.0,123.7 455.5,121.6 456.1,119.7 456.6,117.7 457.1,115.8 457.6,113.9 458.2,112.0 458.7,110.2 459.2,108.4 459.8,106.7 460.3,105.0 460.8,103.3 461.3,101.7 461.9,100.1 462.4,98.6 462.9,97.1 463.4,95.6 464.0,94.2 464.5,92.8 465.0,91.4 465.5,90.2 466.1,88.9 466.6,87.7 467.1,86.5 467.7,85.4 468.2,84.3 468.7,83.3 469.2,82.3 469.8,81.4 470.3,80.5 470.8,79.7 471.3,78.9 471.9,78.1 472.4,77.4 472.9,76.8 473.5,76.2 474.0,75.6 474.5,75.1 475.0,74.7 475.6,74.3 476.1,73.9 476.6,73.6 477.1,73.3 477.7,73.1 478.2,73.0 478.7,72.9 479.3,72.8 479.8,72.8 480.3,72.8 480.8,72.9 481.4,73.1 481.9,73.3 482.4,73.5 482.9,73.8 483.5,74.1 484.0,74.5 484.5,75.0 485.1,75.5 485.6,76.0 486.1,76.6 486.6,77.2 487.2,77.9 487.7,78.6 488.2,79.4 488.7,80.2 489.3,81.1 489.8,82.0 490.3,83.0 490.8,84.0 491.4,85.0 491.9,86.2 492.4,87.3 493.0,88.5 493.5,89.7 494.0,91.0 494.5,92.3 495.1,93.7 495.6,95.1 496.1,96.6 496.6,98.1 497.2,99.6 497.7,101.2 498.2,102.8 498.8,104.4 499.3,106.1 499.8,107.9 500.3,109.6 500.9,111.4 501.4,113.3 501.9,115.1 502.4,117.1 503.0,119.0 503.5,121.0 504.0,123.0 504.6,125.0 505.1,127.1 505.6,129.2 506.1,131.3 506.7,133.5 507.2,135.7 507.7,137.9 508.2,140.2 508.8,142.4 509.3,144.7 509.8,147.1 510.3,149.4 510.9,151.8 511.4,154.2 511.9,156.6 512.5,159.0 513.0,161.5 513.5,163.9 514.0,166.4 514.6,168.9 515.1,171.4 515.6,174.0 516.1,176.5 516.7,179.1 517.2,181.6 517.7,184.2 518.3,186.8 518.8,189.4 519.3,192.0 519.8,194.6 520.4,197.3 520.9,199.9 521.4,202.5 521.9,205.2 522.5,207.8 523.0,210.5 523.5,213.1 524.1,215.7 524.6,218.4 525.1,221.0 525.6,223.7 526.2,226.3 526.7,228.9 527.2,231.6 527.7,234.2 528.3,236.8 528.8,239.4 529.3,242.0 529.8,244.6 530.4,247.1 530.9,249.7 531.4,252.2 532.0,254.8 532.5,257.3 533.0,259.8 533.5,262.3 534.1,264.7 534.6,267.2 535.1,269.6 535.6,272.0 536.2,274.4 536.7,276.8 537.2,279.1 537.8,281.5 538.3,283.8 538.8,286.0 539.3,288.3 539.9,290.5 540.4,292.7 540.9,294.9 541.4,297.0 542.0,299.1 542.5,301.2 543.0,303.2 543.6,305.2 544.1,307.2 544.6,309.1 545.1,311.1 545.7,312.9 546.2,314.8 546.7,316.6 547.2,318.3 547.8,320.1 548.3,321.8 548.8,323.4 549.4,325.0 549.9,326.6 550.4,328.1 550.9,329.6 551.5,331.1 552.0,332.5 552.5,333.9 553.0,335.2 553.6,336.5 554.1,337.7 554.6,338.9 555.1,340.0 555.7,341.2 556.2,342.2 556.7,343.2 557.3,344.2 557.8,345.1 558.3,346.0 558.8,346.8 559.4,347.6 559.9,348.3 560.4,349.0 560.9,349.6 561.5,350.2 562.0,350.7 562.5,351.2 563.1,351.7 563.6,352.1 564.1,352.4 564.6,352.7 565.2,352.9 565.7,353.1 566.2,353.3 566.7,353.4 567.3,353.4 567.8,353.4 568.3,353.3 568.9,353.2 569.4,353.1 569.9,352.9 570.4,352.6 571.0,352.3 571.5,351.9 572.0,351.5 572.5,351.1 573.1,350.6 573.6,350.0 574.1,349.4 574.6,348.8 575.2,348.1 575.7,347.3 576.2,346.5 576.8,345.7 577.3,344.8 577.8,343.9 578.3,342.9 578.9,341.9 579.4,340.8 579.9,339.7 580.4,338.5 581.0,337.3 581.5,336.0 582.0,334.8 582.6,333.4 583.1,332.0 583.6,330.6 584.1,329.1 584.7,327.6 585.2,326.1 585.7,324.5 586.2,322.9 586.8,321.2 587.3,319.5 587.8,317.8 588.4,316.0 588.9,314.2 589.4,312.3 589.9,310.4 590.5,308.5 591.0,306.5 591.5,304.6 592.0,302.5 592.6,300.5 593.1,298.4 593.6,296.3 594.1,294.1 594.7,292.0 595.2,289.8 595.7,287.5 596.3,285.3 596.8,283.0 597.3,280.7 597.8,278.4 598.4,276.0 598.9,273.6 599.4,271.2 599.9,268.8 600.5,266.4 601.0,263.9 601.5,261.5 602.1,259.0 602.6,256.5 603.1,253.9 603.6,251.4 604.2,248.8 604.7,246.3 605.2,243.7 605.7,241.1 606.3,238.5 606.8,235.9 607.3,233.3 607.9,230.7 608.4,228.1 608.9,225.4 609.4,222.8 610.0,220.1 610.5,217.5 611.0,214.9 611.5,212.2 612.1,209.6 612.6,206.9 613.1,204.3 613.7,201.7 614.2,199.0 614.7,196.4 615.2,193.8 615.8,191.2 616.3,188.5 616.8,185.9 617.3,183.4 617.9,180.8 618.4,178.2 618.9,175.7 619.4,173.1 620.0,170.6 620.5,168.1 621.0,165.6 621.6,163.1 622.1,160.6 622.6,158.2 623.1,155.8 623.7,153.4 624.2,151.0 624.7,148.6 625.2,146.3 625.8,144.0 626.3,141.7 626.8,139.4 627.4,137.2 627.9,135.0 628.4,132.8 628.9,130.6 629.5,128.5 630.0,126.4 630.5,124.4 631.0,122.3 631.6,120.3 632.1,118.4 632.6,116.4 633.2,114.5 633.7,112.7 634.2,110.8 634.7,109.0 635.3,107.3 635.8,105.6 636.3,103.9 636.8,102.2 637.4,100.6 637.9,99.1 638.4,97.6 638.9,96.1 639.5,94.6 640.0,93.2 640.5,91.9 641.1,90.6 641.6,89.3 642.1,88.1 642.6,86.9 643.2,85.8 643.7,84.7 644.2,83.6 644.7,82.7 645.3,81.7 645.8,80.8 646.3,79.9 646.9,79.1 647.4,78.4 647.9,77.7 648.4,77.0 649.0,76.4 649.5,75.8 650.0,75.3 650.5,74.8 651.1,74.4 651.6,74.0 652.1,73.7 652.7,73.4 653.2,73.2 653.7,73.0 654.2,72.9 654.8,72.8 655.3,72.8 655.8,72.8 656.3,72.9 656.9,73.0 657.4,73.2 657.9,73.4 658.4,73.7 659.0,74.0 659.5,74.4 660.0,74.8 660.6,75.3 661.1,75.8 661.6,76.4 662.1,77.0 662.7,77.7 663.2,78.4 663.7,79.1 664.2,79.9 664.8,80.8 665.3,81.7 665.8,82.7 666.4,83.6 666.9,84.7 667.4,85.8 667.9,86.9 668.5,88.1 669.0,89.3 669.5,90.6 670.0,91.9 670.6,93.2 671.1,94.6 671.6,96.1 672.2,97.6 672.7,99.1 673.2,100.6 673.7,102.2 674.3,103.9 674.8,105.6 675.3,107.3 675.8,109.0 676.4,110.8 676.9,112.7 677.4,114.5 678.0,116.4 678.5,118.4 679.0,120.3 679.5,122.3 680.1,124.4 680.6,126.4 681.1,128.5 681.6,130.6 682.2,132.8 682.7,135.0 683.2,137.2 683.7,139.4 684.3,141.7 684.8,144.0 685.3,146.3 685.9,148.6 686.4,151.0 686.9,153.4 687.4,155.8 688.0,158.2 688.5,160.6 689.0,163.1 689.5,165.6 690.1,168.1 690.6,170.6 691.1,173.1 691.7,175.7 692.2,178.2 692.7,180.8 693.2,183.4 693.8,185.9 694.3,188.5 694.8,191.2 695.3,193.8 695.9,196.4 696.4,199.0 696.9,201.7 697.5,204.3 698.0,206.9 698.5,209.6 699.0,212.2 699.6,214.9 700.1,217.5 700.6,220.1 701.1,222.8 701.7,225.4 702.2,228.1 702.7,230.7 703.2,233.3 703.8,235.9 704.3,238.5 704.8,241.1 705.4,243.7 705.9,246.3 706.4,248.8 706.9,251.4 707.5,253.9 708.0,256.5 708.5,259.0 709.0,261.5 709.6,263.9 710.1,266.4 710.6,268.8 711.2,271.2 711.7,273.6 712.2,276.0 712.7,278.4 713.3,280.7 713.8,283.0 714.3,285.3 714.8,287.5 715.4,289.8 715.9,292.0 716.4,294.1 717.0,296.3 717.5,298.4 718.0,300.5 718.5,302.5 719.1,304.6 719.6,306.5 720.1,308.5 720.6,310.4 721.2,312.3 721.7,314.2 722.2,316.0 722.7,317.8 723.3,319.5 723.8,321.2 724.3,322.9 724.9,324.5 725.4,326.1 725.9,327.6 726.4,329.1 727.0,330.6 727.5,332.0 728.0,333.4 728.5,334.8 729.1,336.0 729.6,337.3 730.1,338.5 730.7,339.7 731.2,340.8 731.7,341.9 732.2,342.9 732.8,343.9 733.3,344.8 733.8,345.7 734.3,346.5 734.9,347.3 735.4,348.1 735.9,348.8 736.5,349.4 737.0,350.0 737.5,350.6 738.0,351.1 738.6,351.5 739.1,351.9 739.6,352.3 740.1,352.6 740.7,352.9 741.2,353.1 741.7,353.2 742.3,353.3 742.8,353.4 743.3,353.4 743.8,353.4 744.4,353.3 744.9,353.1 745.4,352.9 745.9,352.7 746.5,352.4 747.0,352.1 747.5,351.7 748.0,351.2 748.6,350.7 749.1,350.2 749.6,349.6 750.2,349.0 750.7,348.3 751.2,347.6 751.7,346.8 752.3,346.0 752.8,345.1 753.3,344.2 753.8,343.2 754.4,342.2 754.9,341.2 755.4,340.0 756.0,338.9 756.5,337.7 757.0,336.5 757.5,335.2 758.1,333.9 758.6,332.5 759.1,331.1 759.6,329.6 760.2,328.1 760.7,326.6 761.2,325.0 761.8,323.4 762.3,321.8 762.8,320.1 763.3,318.3 763.9,316.6 764.4,314.8 764.9,312.9 765.4,311.1 766.0,309.1 766.5,307.2 767.0,305.2 767.5,303.2 768.1,301.2 768.6,299.1 769.1,297.0 769.7,294.9 770.2,292.7 770.7,290.5 771.2,288.3 771.8,286.0 772.3,283.8 772.8,281.5 773.3,279.1 773.9,276.8 774.4,274.4 774.9,272.0 775.5,269.6 776.0,267.2 776.5,264.7 777.0,262.3 777.6,259.8 778.1,257.3 778.6,254.8 779.1,252.2 779.7,249.7 780.2,247.1 780.7,244.6 781.3,242.0 781.8,239.4 782.3,236.8 782.8,234.2 783.4,231.6 783.9,228.9 784.4,226.3 784.9,223.7 785.5,221.0 786.0,218.4 786.5,215.7 787.0,213.1 787.6,210.5 788.1,207.8 788.6,205.2 789.2,202.5 789.7,199.9 790.2,197.3 790.7,194.6 791.3,192.0 791.8,189.4 792.3,186.8 792.8,184.2 793.4,181.6 793.9,179.1 794.4,176.5 795.0,174.0 795.5,171.4 796.0,168.9 796.5,166.4 797.1,163.9 797.6,161.5 798.1,159.0 798.6,156.6 799.2,154.2 799.7,151.8 800.2,149.4 800.8,147.1 801.3,144.7 801.8,142.4 802.3,140.2 802.9,137.9 803.4,135.7 803.9,133.5 804.4,131.3 805.0,129.2 805.5,127.1 806.0,125.0 806.6,123.0 807.1,121.0 807.6,119.0 808.1,117.1 808.7,115.1 809.2,113.3 809.7,111.4 810.2,109.6 810.8,107.9 811.3,106.1 811.8,104.4 812.3,102.8 812.9,101.2 813.4,99.6 813.9,98.1 814.5,96.6 815.0,95.1 815.5,93.7 816.0,92.3 816.6,91.0 817.1,89.7 817.6,88.5 818.1,87.3 818.7,86.2 819.2,85.0 819.7,84.0 820.3,83.0 820.8,82.0 821.3,81.1 821.8,80.2 822.4,79.4 822.9,78.6 823.4,77.9 823.9,77.2 824.5,76.6 825.0,76.0 825.5,75.5 826.1,75.0 826.6,74.5 827.1,74.1 827.6,73.8 828.2,73.5 828.7,73.3 829.2,73.1 829.7,72.9 830.3,72.8 830.8,72.8 831.3,72.8 831.8,72.9 832.4,73.0 832.9,73.1 833.4,73.3 834.0,73.6 834.5,73.9 835.0,74.3 835.5,74.7 836.1,75.1 836.6,75.6 837.1,76.2 837.6,76.8 838.2,77.4 838.7,78.1 839.2,78.9 839.8,79.7 840.3,80.5 840.8,81.4 841.3,82.3 841.9,83.3 842.4,84.3 842.9,85.4 843.4,86.5 844.0,87.7 844.5,88.9 845.0,90.2 845.6,91.4 846.1,92.8 846.6,94.2 847.1,95.6 847.7,97.1 848.2,98.6 848.7,100.1 849.2,101.7 849.8,103.3 850.3,105.0 850.8,106.7 851.4,108.4 851.9,110.2 852.4,112.0 852.9,113.9 853.5,115.8 854.0,117.7 854.5,119.7 855.0,121.6 855.6,123.7 856.1,125.7 856.6,127.8 857.1,129.9 857.7,132.1 858.2,134.2 858.7,136.4 859.3,138.7 859.8,140.9 860.3,143.2 860.8,145.5 861.4,147.8 861.9,150.2 862.4,152.6 862.9,155.0 863.5,157.4 864.0,159.8 864.5,162.3 865.1,164.7 865.6,167.2 866.1,169.7 866.6,172.3 867.2,174.8 867.7,177.4 868.2,179.9 868.7,182.5 869.3,185.1 869.8,187.7 870.3,190.3 870.9,192.9 871.4,195.5 871.9,198.1 872.4,200.8 873.0,203.4 873.5,206.1 874.0,208.7 874.5,211.3 875.1,214.0 875.6,216.6 876.1,219.3 876.6,221.9 877.2,224.5 877.7,227.2 878.2,229.8 878.8,232.4 879.3,235.0 879.8,237.7 880.3,240.3 880.9,242.8 881.4,245.4 881.9,248.0 882.4,250.5 883.0,253.1 883.5,255.6 884.0,258.1 884.6,260.6 885.1,263.1 885.6,265.6 886.1,268.0 886.7,270.4 887.2,272.8 887.7,275.2 888.2,277.6 888.8,279.9 889.3,282.2 889.8,284.5 890.4,286.8 890.9,289.0 891.4,291.2 891.9,293.4 892.5,295.6 893.0,297.7 893.5,299.8 894.0,301.8 894.6,303.9 895.1,305.9 895.6,307.8 896.1,309.8 896.7,311.7 897.2,313.5 897.7,315.4 898.3,317.2 898.8,318.9 899.3,320.6 899.8,322.3 900.4,324.0 900.9,325.6 901.4,327.1 901.9,328.6 902.5,330.1 903.0,331.6 903.5,333.0 904.1,334.3 904.6,335.6 905.1,336.9 905.6,338.1 906.2,339.3 906.7,340.4 907.2,341.5 907.7,342.6 908.3,343.5 908.8,344.5 909.3,345.4 909.9,346.3 910.4,347.1 910.9,347.8 911.4,348.5 912.0,349.2 912.5,349.8 913.0,350.4 913.5,350.9 914.1,351.4 914.6,351.8 915.1,352.2 915.7,352.5 916.2,352.8 916.7,353.0 917.2,353.2 917.8,353.3 918.3,353.4 918.8,353.4 919.3,353.4 919.9,353.3 920.4,353.2 920.9,353.0 921.4,352.8 922.0,352.5 922.5,352.2 923.0,351.8 923.6,351.4 924.1,350.9 924.6,350.4 925.1,349.8 925.7,349.2 926.2,348.5 926.7,347.8 927.2,347.1 927.8,346.3 928.3,345.4 928.8,344.5 929.4,343.5 929.9,342.6 930.4,341.5 930.9,340.4 931.5,339.3 932.0,338.1 932.5,336.9 933.0,335.6 933.6,334.3 934.1,333.0 934.6,331.6 935.2,330.1 935.7,328.6 936.2,327.1 936.7,325.6 937.3,324.0 937.8,322.3 938.3,320.6 938.8,318.9 939.4,317.2 939.9,315.4 940.4,313.5 940.9,311.7 941.5,309.8 942.0,307.8 942.5,305.9 943.1,303.9 943.6,301.8 944.1,299.8 944.6,297.7 945.2,295.6 945.7,293.4 946.2,291.2 946.7,289.0 947.3,286.8 947.8,284.5 948.3,282.2 948.9,279.9 949.4,277.6 949.9,275.2 950.4,272.8 951.0,270.4 951.5,268.0 952.0,265.6 952.5,263.1 953.1,260.6 953.6,258.1 954.1,255.6 954.7,253.1 955.2,250.5 955.7,248.0 956.2,245.4 956.8,242.8 957.3,240.3 957.8,237.7 958.3,235.0 958.9,232.4 959.4,229.8 959.9,227.2 960.4,224.5 961.0,221.9 961.5,219.3 962.0,216.6 962.6,214.0 963.1,211.3 963.6,208.7 964.1,206.1 964.7,203.4 965.2,200.8 965.7,198.1 966.2,195.5 966.8,192.9 967.3,190.3 967.8,187.7 968.4,185.1 968.9,182.5 969.4,179.9 969.9,177.4 970.5,174.8 971.0,172.3 971.5,169.7 972.0,167.2 972.6,164.7 973.1,162.3 973.6,159.8 974.2,157.4 974.7,155.0 975.2,152.6 975.7,150.2 976.3,147.8 976.8,145.5 977.3,143.2 977.8,140.9 978.4,138.7 978.9,136.4 979.4,134.2 980.0,132.1 980.5,129.9 981.0,127.8 981.5,125.7 982.1,123.7 982.6,121.6 983.1,119.7 983.6,117.7 984.2,115.8 984.7,113.9 985.2,112.0 985.7,110.2 986.3,108.4 986.8,106.7 987.3,105.0 987.9,103.3 988.4,101.7 988.9,100.1 989.4,98.6 990.0,97.1 990.5,95.6 991.0,94.2 991.5,92.8 992.1,91.4 992.6,90.2 993.1,88.9 993.7,87.7 994.2,86.5 994.7,85.4 995.2,84.3 995.8,83.3 996.3,82.3 996.8,81.4 997.3,80.5 997.9,79.7 998.4,78.9 998.9,78.1 999.5,77.4 1000.0,76.8 1000.5,76.2 1001.0,75.6 1001.6,75.1 1002.1,74.7 1002.6,74.3 1003.1,73.9 1003.7,73.6 1004.2,73.3 1004.7,73.1 1005.2,73.0 1005.8,72.9 1006.3,72.8 1006.8,72.8 1007.4,72.8 1007.9,72.9 1008.4,73.1 1008.9,73.3 1009.5,73.5 1010.0,73.8 1010.5,74.1 1011.0,74.5 1011.6,75.0 1012.1,75.5 1012.6,76.0 1013.2,76.6 1013.7,77.2 1014.2,77.9 1014.7,78.6 1015.3,79.4 1015.8,80.2 1016.3,81.1 1016.8,82.0 1017.4,83.0 1017.9,84.0 1018.4,85.0 1019.0,86.2 1019.5,87.3 1020.0,88.5 1020.5,89.7 1021.1,91.0 1021.6,92.3 1022.1,93.7 1022.6,95.1 1023.2,96.6 1023.7,98.1 1024.2,99.6 1024.7,101.2 1025.3,102.8 1025.8,104.4 1026.3,106.1 1026.9,107.9 1027.4,109.6 1027.9,111.4 1028.4,113.3 1029.0,115.1 1029.5,117.1 1030.0,119.0 1030.5,121.0 1031.1,123.0 1031.6,125.0 1032.1,127.1 1032.7,129.2 1033.2,131.3 1033.7,133.5 1034.2,135.7 1034.8,137.9 1035.3,140.2 1035.8,142.4 1036.3,144.7 1036.9,147.1 1037.4,149.4 1037.9,151.8 1038.5,154.2 1039.0,156.6 1039.5,159.0 1040.0,161.5 1040.6,163.9 1041.1,166.4 1041.6,168.9 1042.1,171.4 1042.7,174.0 1043.2,176.5 1043.7,179.1 1044.3,181.6 1044.8,184.2 1045.3,186.8 1045.8,189.4 1046.4,192.0 1046.9,194.6 1047.4,197.3 1047.9,199.9 1048.5,202.5 1049.0,205.2 1049.5,207.8 1050.0,210.5 1050.6,213.1 1051.1,215.7 1051.6,218.4 1052.2,221.0 1052.7,223.7 1053.2,226.3 1053.7,228.9 1054.3,231.6 1054.8,234.2 1055.3,236.8 1055.8,239.4 1056.4,242.0 1056.9,244.6 1057.4,247.1 1058.0,249.7 1058.5,252.2 1059.0,254.8 1059.5,257.3 1060.1,259.8 1060.6,262.3 1061.1,264.7 1061.6,267.2 1062.2,269.6 1062.7,272.0 1063.2,274.4 1063.8,276.8 1064.3,279.1 1064.8,281.5 1065.3,283.8 1065.9,286.0 1066.4,288.3 1066.9,290.5 1067.4,292.7 1068.0,294.9 1068.5,297.0 1069.0,299.1 1069.5,301.2 1070.1,303.2 1070.6,305.2 1071.1,307.2 1071.7,309.1 1072.2,311.1 1072.7,312.9 1073.2,314.8 1073.8,316.6 1074.3,318.3 1074.8,320.1 1075.3,321.8 1075.9,323.4 1076.4,325.0 1076.9,326.6 1077.5,328.1 1078.0,329.6 1078.5,331.1 1079.0,332.5 1079.6,333.9 1080.1,335.2 1080.6,336.5 1081.1,337.7 1081.7,338.9 1082.2,340.0 1082.7,341.2 1083.3,342.2 1083.8,343.2 1084.3,344.2 1084.8,345.1 1085.4,346.0 1085.9,346.8 1086.4,347.6 1086.9,348.3 1087.5,349.0 1088.0,349.6 1088.5,350.2 1089.0,350.7 1089.6,351.2 1090.1,351.7 1090.6,352.1 1091.2,352.4 1091.7,352.7 1092.2,352.9 1092.7,353.1 1093.3,353.3 1093.8,353.4 1094.3,353.4 1094.8,353.4 1095.4,353.3 1095.9,353.2 1096.4,353.1 1097.0,352.9 1097.5,352.6 1098.0,352.3 1098.5,351.9 1099.1,351.5 1099.6,351.1 1100.1,350.6 1100.6,350.0 1101.2,349.4 1101.7,348.8 1102.2,348.1 1102.8,347.3 1103.3,346.5 1103.8,345.7 1104.3,344.8 1104.9,343.9 1105.4,342.9 1105.9,341.9 1106.4,340.8 1107.0,339.7 1107.5,338.5 1108.0,337.3 1108.6,336.0 1109.1,334.8 1109.6,333.4 1110.1,332.0 1110.7,330.6 1111.2,329.1 1111.7,327.6 1112.2,326.1 1112.8,324.5 1113.3,322.9 1113.8,321.2 1114.3,319.5 1114.9,317.8 1115.4,316.0 1115.9,314.2 1116.5,312.3 1117.0,310.4 1117.5,308.5 1118.0,306.5 1118.6,304.6 1119.1,302.5 1119.6,300.5 1120.1,298.4 1120.7,296.3 1121.2,294.1 1121.7,292.0 1122.3,289.8 1122.8,287.5 1123.3,285.3 1123.8,283.0 1124.4,280.7 1124.9,278.4 1125.4,276.0 1125.9,273.6 1126.5,271.2 1127.0,268.8 1127.5,266.4 1128.1,263.9 1128.6,261.5 1129.1,259.0 1129.6,256.5 1130.2,253.9 1130.7,251.4 1131.2,248.8 1131.7,246.3 1132.3,243.7 1132.8,241.1 1133.3,238.5 1133.8,235.9 1134.4,233.3 1134.9,230.7 1135.4,228.1 1136.0,225.4 1136.5,222.8 1137.0,220.1 1137.5,217.5 1138.1,214.9 1138.6,212.2 1139.1,209.6 1139.6,206.9 1140.2,204.3 1140.7,201.7 1141.2,199.0 1141.8,196.4 1142.3,193.8 1142.8,191.2 1143.3,188.5 1143.9,185.9 1144.4,183.4 1144.9,180.8 1145.4,178.2 1146.0,175.7 1146.5,173.1 1147.0,170.6 1147.6,168.1 1148.1,165.6 1148.6,163.1 1149.1,160.6 1149.7,158.2 1150.2,155.8 1150.7,153.4 1151.2,151.0 1151.8,148.6 1152.3,146.3 1152.8,144.0 1153.3,141.7 1153.9,139.4 1154.4,137.2 1154.9,135.0 1155.5,132.8 1156.0,130.6 1156.5,128.5 1157.0,126.4 1157.6,124.4 1158.1,122.3 1158.6,120.3 1159.1,118.4 1159.7,116.4 1160.2,114.5 1160.7,112.7 1161.3,110.8 1161.8,109.0 1162.3,107.3 1162.8,105.6 1163.4,103.9 1163.9,102.2 1164.4,100.6 1164.9,99.1 1165.5,97.6 1166.0,96.1 1166.5,94.6 1167.1,93.2 1167.6,91.9 1168.1,90.6 1168.6,89.3 1169.2,88.1 1169.7,86.9 1170.2,85.8 1170.7,84.7 1171.3,83.6 1171.8,82.7 1172.3,81.7 1172.9,80.8 1173.4,79.9 1173.9,79.1 1174.4,78.4 1175.0,77.7 1175.5,77.0 1176.0,76.4 1176.5,75.8 1177.1,75.3 1177.6,74.8 1178.1,74.4 1178.6,74.0 1179.2,73.7 1179.7,73.4 1180.2,73.2 1180.8,73.0 1181.3,72.9 1181.8,72.8 1182.3,72.8 1182.9,72.8 1183.4,72.9 1183.9,73.0 1184.4,73.2 1185.0,73.4 1185.5,73.7 1186.0,74.0 1186.6,74.4 1187.1,74.8 1187.6,75.3 1188.1,75.8 1188.7,76.4 1189.2,77.0 1189.7,77.7 1190.2,78.4 1190.8,79.1 1191.3,79.9 1191.8,80.8 1192.4,81.7 1192.9,82.7 1193.4,83.6 1193.9,84.7 1194.5,85.8 1195.0,86.9 1195.5,88.1 1196.0,89.3 1196.6,90.6 1197.1,91.9 1197.6,93.2 1198.1,94.6 1198.7,96.1 1199.2,97.6 1199.7,99.1 1200.3,100.6 1200.8,102.2 1201.3,103.9 1201.8,105.6 1202.4,107.3 1202.9,109.0 1203.4,110.8 1203.9,112.7 1204.5,114.5 1205.0,116.4 1205.5,118.4 1206.1,120.3 1206.6,122.3 1207.1,124.4 1207.6,126.4 1208.2,128.5 1208.7,130.6 1209.2,132.8 1209.7,135.0 1210.3,137.2 1210.8,139.4 1211.3,141.7 1211.9,144.0 1212.4,146.3 1212.9,148.6 1213.4,151.0 1214.0,153.4 1214.5,155.8 1215.0,158.2 1215.5,160.6 1216.1,163.1 1216.6,165.6 1217.1,168.1 1217.6,170.6 1218.2,173.1 1218.7,175.7 1219.2,178.2 1219.8,180.8 1220.3,183.4 1220.8,185.9 1221.3,188.5 1221.9,191.2 1222.4,193.8 1222.9,196.4 1223.4,199.0 1224.0,201.7 1224.5,204.3 1225.0,206.9 1225.6,209.6 1226.1,212.2 1226.6,214.9 1227.1,217.5 1227.7,220.1 1228.2,222.8 1228.7,225.4 1229.2,228.1 1229.8,230.7 1230.3,233.3 1230.8,235.9 1231.4,238.5 1231.9,241.1 1232.4,243.7 1232.9,246.3 1233.5,248.8 1234.0,251.4 1234.5,253.9 1235.0,256.5 1235.6,259.0 1236.1,261.5 1236.6,263.9 1237.2,266.4 1237.7,268.8 1238.2,271.2 1238.7,273.6 1239.3,276.0 1239.8,278.4 1240.3,280.7 1240.8,283.0 1241.4,285.3 1241.9,287.5 1242.4,289.8 1242.9,292.0 1243.5,294.1 1244.0,296.3 1244.5,298.4 1245.1,300.5 1245.6,302.5 1246.1,304.6 1246.6,306.5 1247.2,308.5 1247.7,310.4 1248.2,312.3 1248.7,314.2 1249.3,316.0 1249.8,317.8 1250.3,319.5 1250.9,321.2 1251.4,322.9 1251.9,324.5 1252.4,326.1 1253.0,327.6 1253.5,329.1 1254.0,330.6 1254.5,332.0 1255.1,333.4 1255.6,334.8 1256.1,336.0 1256.7,337.3 1257.2,338.5 1257.7,339.7 1258.2,340.8 1258.8,341.9 1259.3,342.9 1259.8,343.9 1260.3,344.8 1260.9,345.7 1261.4,346.5 1261.9,347.3 1262.4,348.1 1263.0,348.8 1263.5,349.4 1264.0,350.0 1264.6,350.6 1265.1,351.1 1265.6,351.5 1266.1,351.9 1266.7,352.3 1267.2,352.6 1267.7,352.9 1268.2,353.1 1268.8,353.2 1269.3,353.3 1269.8,353.4 1270.4,353.4 1270.9,353.4 1271.4,353.3 1271.9,353.1 1272.5,352.9 1273.0,352.7 1273.5,352.4 1274.0,352.1 1274.6,351.7 1275.1,351.2 1275.6,350.7 1276.2,350.2 1276.7,349.6 1277.2,349.0 1277.7,348.3 1278.3,347.6 1278.8,346.8 1279.3,346.0 1279.8,345.1 1280.4,344.2 1280.9,343.2 1281.4,342.2 1281.9,341.2 1282.5,340.0 1283.0,338.9 1283.5,337.7 1284.1,336.5 1284.6,335.2 1285.1,333.9 1285.6,332.5 1286.2,331.1 1286.7,329.6 1287.2,328.1 1287.7,326.6 1288.3,325.0 1288.8,323.4 1289.3,321.8 1289.9,320.1 1290.4,318.3 1290.9,316.6 1291.4,314.8 1292.0,312.9 1292.5,311.1 1293.0,309.1 1293.5,307.2 1294.1,305.2 1294.6,303.2 1295.1,301.2 1295.7,299.1 1296.2,297.0 1296.7,294.9 1297.2,292.7 1297.8,290.5 1298.3,288.3 1298.8,286.0 1299.3,283.8 1299.9,281.5 1300.4,279.1 1300.9,276.8 1301.5,274.4 1302.0,272.0 1302.5,269.6 1303.0,267.2 1303.6,264.7 1304.1,262.3 1304.6,259.8 1305.1,257.3 1305.7,254.8 1306.2,252.2 1306.7,249.7 1307.2,247.1 1307.8,244.6 1308.3,242.0 1308.8,239.4 1309.4,236.8 1309.9,234.2 1310.4,231.6 1310.9,228.9 1311.5,226.3 1312.0,223.7 1312.5,221.0 1313.0,218.4 1313.6,215.7 1314.1,213.1" stroke="#fa2828" stroke-width="1.8" shape-rendering="geometricPrecision"/>
</g>
<g fill="#f4f4f4" stroke="#3b9cff" stroke-width="1.1" stroke-linejoin="round">
<path d="M0 0 L3.9 7 L1.8 7 L1.8 13.3 L-1.8 13.3 L-1.8 7 L-3.9 7 Z" transform="translate(255.2,68.4)"/>
<path d="M0 0 L3.9 7 L1.8 7 L1.8 13.3 L-1.8 13.3 L-1.8 7 L-3.9 7 Z" transform="translate(255.5,358.5) rotate(180)"/>
<path d="M0 0 L3.9 7 L1.8 7 L1.8 13.3 L-1.8 13.3 L-1.8 7 L-3.9 7 Z" transform="translate(256,358.5) rotate(-90) translate(0,0)"/>
<path d="M0 0 L3.9 7 L1.8 7 L1.8 13.3 L-1.8 13.3 L-1.8 7 L-3.9 7 Z" transform="translate(1319,358.5) rotate(90)"/>
</g>
</svg>
</body></html>
